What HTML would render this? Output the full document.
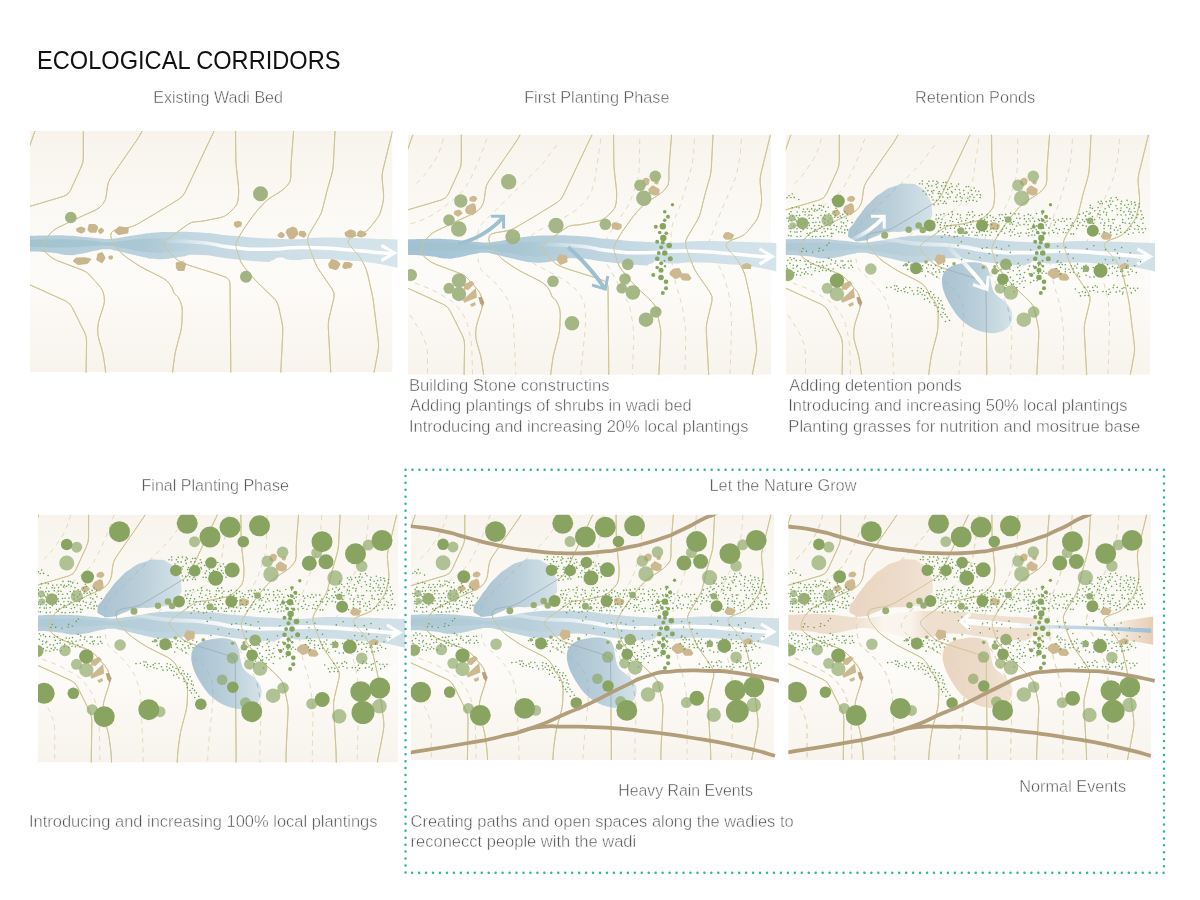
<!DOCTYPE html><html><head><meta charset="utf-8"><title>Ecological Corridors</title>
<style>html,body{margin:0;padding:0;background:#fff}svg{display:block}text{font-family:"Liberation Sans",sans-serif}</style></head><body>
<svg style="will-change:transform" width="1200" height="900" viewBox="0 0 1200 900">
<defs>
<linearGradient id="bg" x1="0" y1="0" x2="0" y2="1"><stop offset="0" stop-color="#f8f4ed"/><stop offset="0.4" stop-color="#fcfaf6"/><stop offset="0.62" stop-color="#fdfbf8"/><stop offset="1" stop-color="#f8f4ed"/></linearGradient>
<linearGradient id="rv" gradientUnits="userSpaceOnUse" x1="30" y1="0" x2="398" y2="0"><stop offset="0" stop-color="#b1ccd9"/><stop offset="0.35" stop-color="#bcd3de"/><stop offset="0.6" stop-color="#cadce5"/><stop offset="1" stop-color="#d6e5ec"/></linearGradient>
<linearGradient id="rvi" gradientUnits="userSpaceOnUse" x1="30" y1="0" x2="205" y2="0"><stop offset="0" stop-color="#a0c1cf" stop-opacity="0.85"/><stop offset="0.65" stop-color="#a5c4d1" stop-opacity="0.75"/><stop offset="1" stop-color="#b5cfdc" stop-opacity="0"/></linearGradient>
<linearGradient id="wa" gradientUnits="userSpaceOnUse" x1="160" y1="0" x2="235" y2="0"><stop offset="0" stop-color="#fff" stop-opacity="0"/><stop offset="1" stop-color="#fff" stop-opacity="1"/></linearGradient>
<linearGradient id="pd" x1="0" y1="0" x2="1" y2="0"><stop offset="0" stop-color="#a3bfce"/><stop offset="0.5" stop-color="#b4cbd7"/><stop offset="1" stop-color="#d2e1e7"/></linearGradient>
<linearGradient id="pdt" x1="0" y1="0" x2="1" y2="0"><stop offset="0" stop-color="#e8d3be"/><stop offset="0.6" stop-color="#ecdac7"/><stop offset="1" stop-color="#f1e3d4"/></linearGradient>
<linearGradient id="rvt" gradientUnits="userSpaceOnUse" x1="30" y1="0" x2="300" y2="0"><stop offset="0" stop-color="#eedccb"/><stop offset="0.25" stop-color="#efdfcf"/><stop offset="0.31" stop-color="#f5ebe0"/><stop offset="0.36" stop-color="#faf5ef"/><stop offset="0.46" stop-color="#f9f3ec"/><stop offset="0.52" stop-color="#efdfcf"/><stop offset="0.9" stop-color="#efdfcf"/><stop offset="1" stop-color="#f3e7da" stop-opacity="0"/></linearGradient>
<linearGradient id="wedge" gradientUnits="userSpaceOnUse" x1="352" y1="0" x2="398" y2="0"><stop offset="0" stop-color="#ecd8c4" stop-opacity="0"/><stop offset="0.5" stop-color="#ecd8c4" stop-opacity="0.75"/><stop offset="1" stop-color="#e6ceb6"/></linearGradient>
<linearGradient id="bl" gradientUnits="userSpaceOnUse" x1="200" y1="0" x2="396" y2="0"><stop offset="0" stop-color="#fff"/><stop offset="0.3" stop-color="#fff"/><stop offset="0.52" stop-color="#c8dbe6"/><stop offset="1" stop-color="#9fc0d6"/></linearGradient>
<linearGradient id="ar1" gradientUnits="userSpaceOnUse" x1="96" y1="236" x2="128" y2="213"><stop offset="0" stop-color="#fff" stop-opacity="0.15"/><stop offset="0.55" stop-color="#fff" stop-opacity="1"/></linearGradient>
<linearGradient id="ar2" gradientUnits="userSpaceOnUse" x1="191" y1="242" x2="231" y2="286"><stop offset="0" stop-color="#cfe0e9" stop-opacity="0.55"/><stop offset="0.6" stop-color="#fff" stop-opacity="1"/></linearGradient>
<g id="ct" fill="none" stroke="#cdc494" stroke-width="0.9" stroke-linecap="round">
<path d="M37.0,126.0 L35.9,128.7 Q35.0,131.0 33.3,135.7 L29.0,148.0"/>
<path d="M83.3,126.0 L83.3,157.5 Q83.3,162.5 81.2,167.0 L70.4,190.5 Q68.3,195.0 63.5,196.4 L26.0,207.5"/>
<path d="M26.0,283.0 L65.4,300.9 Q70.0,303.0 72.2,307.5 L84.5,332.2 Q86.7,336.7 86.6,341.7 L85.8,388.0"/>
<path d="M144.5,126.0 L142.2,130.9 Q140.3,135.0 137.5,139.1 L110.8,177.6 Q108.0,181.7 107.4,186.7 L106.4,195.0 Q105.8,200.0 103.2,203.6 L102.6,204.4 Q100.0,208.0 95.4,210.1 L82.6,215.9 Q78.0,218.0 73.5,220.2 L57.5,227.8 Q53.0,230.0 49.9,233.9 L48.1,236.1 Q45.0,240.0 43.9,244.5 L43.6,245.5 Q42.5,250.0 46.3,253.3 L49.2,255.7 Q53.0,259.0 57.7,260.8 L82.0,269.9 Q86.7,271.7 90.0,275.4 L99.7,286.3 Q103.0,290.0 103.8,294.9 L104.2,296.8 Q105.0,301.7 103.4,306.5 L99.6,318.2 Q98.0,323.0 97.8,328.0 L97.7,330.0 Q97.5,335.0 99.0,339.8 L101.5,348.2 Q103.0,353.0 103.7,357.9 L105.1,367.6 Q105.8,372.5 106.0,377.5 L106.5,388.0"/>
<path d="M216.5,126.0 L213.9,131.5 Q211.7,136.0 209.6,140.5 L185.1,192.2 Q183.0,196.7 178.7,199.3 L157.3,212.4 Q153.0,215.0 148.7,217.5 L137.3,224.2 Q133.0,226.7 128.1,227.5 L117.9,229.2 Q113.0,230.0 111.6,232.3 L111.4,232.7 Q110.0,235.0 111.4,238.6 L111.6,239.4 Q113.0,243.0 116.2,246.8 L119.8,251.2 Q123.0,255.0 127.1,257.8 L135.9,263.7 Q140.0,266.5 144.5,268.8 L162.2,277.7 Q166.7,280.0 169.3,283.6 L169.9,284.4 Q172.5,288.0 173.2,290.7 L173.3,291.3 Q174.0,294.0 175.8,294.9 L176.2,295.1 Q178.0,296.0 179.9,300.6 L180.6,302.1 Q182.5,306.7 182.3,311.7 L181.9,323.0 Q181.7,328.0 180.4,332.8 L176.3,348.2 Q175.0,353.0 174.4,358.0 L173.1,367.5 Q172.5,372.5 172.2,377.5 L171.5,388.0"/>
<path d="M235.5,126.0 L235.8,156.7 Q235.8,161.7 236.3,166.7 L238.5,186.7 Q239.0,191.7 238.4,196.7 L238.1,200.0 Q237.5,205.0 233.8,208.4 L228.7,213.3 Q225.0,216.7 220.1,217.7 L204.9,220.7 Q200.0,221.7 196.2,221.7 L195.5,221.7 Q191.7,221.7 187.6,224.6 L169.1,237.9 Q165.0,240.8 164.3,242.3 L164.2,242.5 Q163.5,244.0 164.2,245.6 L164.3,245.9 Q165.0,247.5 168.5,251.1 L174.5,257.4 Q178.0,261.0 182.5,262.8 L183.5,263.2 Q188.0,265.0 192.8,266.5 L215.2,273.5 Q220.0,275.0 224.5,276.8 L225.5,277.2 Q230.0,279.0 230.0,284.0 L230.8,367.5 Q230.8,372.5 230.8,377.5 L230.8,388.0"/>
<path d="M294.0,126.0 L291.2,161.7 Q290.8,166.7 290.9,171.7 L290.9,176.7 Q291.0,181.7 287.5,185.3 L286.5,186.4 Q283.0,190.0 278.7,192.6 L271.0,197.4 Q266.7,200.0 263.4,203.7 L258.3,209.3 Q255.0,213.0 252.1,217.1 L245.9,225.9 Q243.0,230.0 240.5,234.3 L237.5,239.7 Q235.0,244.0 236.1,247.5 L236.4,248.2 Q237.5,251.7 238.9,256.5 L239.4,258.2 Q240.8,263.0 244.0,266.8 L251.8,276.2 Q255.0,280.0 258.6,283.5 L273.9,298.2 Q277.5,301.7 278.6,306.6 L281.9,321.8 Q283.0,326.7 282.8,331.7 L281.0,367.5 Q280.8,372.5 280.7,377.5 L280.5,388.0"/>
<path d="M335.3,126.0 L333.3,165.0 Q333.0,170.0 331.6,174.8 L328.1,186.9 Q326.7,191.7 325.6,196.6 L322.8,208.1 Q321.7,213.0 319.1,217.3 L309.3,233.7 Q306.7,238.0 307.7,242.0 L308.0,242.7 Q309.0,246.7 310.8,251.4 L314.9,262.0 Q316.7,266.7 319.6,270.8 L332.1,288.9 Q335.0,293.0 333.9,297.9 L329.1,318.1 Q328.0,323.0 328.3,328.0 L330.5,367.5 Q330.8,372.5 330.9,377.5 L331.0,388.0"/>
<path d="M394.0,126.0 L393.2,128.7 Q392.5,131.0 391.3,135.9 L382.9,170.1 Q381.7,175.0 382.2,180.0 L383.5,193.0 Q384.0,198.0 382.9,202.9 L381.1,210.1 Q380.0,215.0 376.9,218.9 L369.8,227.8 Q366.7,231.7 362.0,233.5 L354.7,236.2 Q350.0,238.0 348.9,239.7 L348.6,240.0 Q347.5,241.7 349.0,244.0 L349.3,244.4 Q350.8,246.7 354.2,250.4 L356.6,253.0 Q360.0,256.7 362.2,261.2 L364.5,265.5 Q366.7,270.0 367.8,274.9 L371.9,293.1 Q373.0,298.0 373.6,303.0 L378.4,341.7 Q379.0,346.7 378.0,351.6 L375.0,367.6 Q374.0,372.5 373.0,377.4 L371.0,388.0"/>
</g>
<g id="ds" fill="none" stroke="#e1dabd" stroke-width="1" stroke-dasharray="5 4.6">
<path d="M68.5,126.0 L62.7,143.9 Q60.3,151.5 55.9,158.2 L51.4,164.8 Q47.0,171.5 42.5,176.0 L37.0,181.5"/>
<path d="M112.0,126.0 L104.6,147.0 Q102.0,154.5 98.7,161.8 L95.3,169.2 Q92.0,176.5 88.8,181.7 L88.2,182.8 Q85.0,188.0 78.8,193.1 L74.9,196.4 Q68.7,201.5 62.5,206.0 L61.2,207.0 Q55.0,211.5 47.7,214.8 L46.0,215.7 Q38.7,219.0 33.8,219.9 L28.0,221.0"/>
<path d="M178.7,141.5 L168.5,155.1 Q163.7,161.5 158.0,167.1 L152.7,172.4 Q147.0,178.0 141.3,183.6 L135.7,188.9 Q130.0,194.5 124.3,200.2 L120.7,203.8 Q115.0,209.5 109.1,214.9 L107.9,216.1 Q102.0,221.5 100.5,227.4 L100.2,228.6 Q98.7,234.5 99.0,242.5 L99.2,245.0 Q99.5,253.0 100.6,259.1 L100.9,260.4 Q102.0,266.5 107.9,271.0 L109.1,272.0 Q115.0,276.5 120.1,282.7 L123.6,286.8 Q128.7,293.0 131.3,300.6 L132.4,303.9 Q135.0,311.5 135.4,319.5 L137.4,361.5 Q137.8,369.5 137.8,377.5 L137.8,388.0"/>
<path d="M223.5,126.0 L223.1,131.7 Q222.8,136.5 221.6,144.4 L219.9,155.1 Q218.7,163.0 217.9,169.1 L217.8,170.4 Q217.0,176.5 214.7,184.0 L214.3,185.5 Q212.0,193.0 206.3,198.7 L202.7,202.3 Q197.0,208.0 190.0,211.8 L179.0,217.7 Q172.0,221.5 164.8,224.9 L162.2,226.1 Q155.0,229.5 150.2,235.9 L146.8,240.6 Q142.0,247.0 146.5,252.2 L147.5,253.3 Q152.0,258.5 159.2,262.1 L164.8,264.9 Q172.0,268.5 179.0,272.5 L181.7,274.0 Q188.7,278.0 193.2,281.9 L194.2,282.6 Q198.7,286.5 202.5,292.4 L203.2,293.6 Q207.0,299.5 207.3,307.5 L207.5,311.5 Q207.8,319.5 207.0,327.5 L203.6,361.5 Q202.8,369.5 202.5,377.5 L202.0,388.0"/>
<path d="M262.0,126.0 L261.2,163.5 Q261.0,171.5 258.6,179.1 L254.4,191.9 Q252.0,199.5 247.6,206.2 L246.4,207.8 Q242.0,214.5 237.5,221.1 L232.5,228.4 Q228.0,235.0 226.5,242.9 L226.0,245.1 Q224.5,253.0 228.5,259.9 L233.0,267.6 Q237.0,274.5 240.7,281.6 L248.3,295.9 Q252.0,303.0 253.3,310.9 L254.7,320.1 Q256.0,328.0 255.7,336.0 L254.8,361.5 Q254.5,369.5 254.5,377.5 L254.5,388.0"/>
<path d="M317.0,126.0 L315.5,150.0 Q315.0,158.0 312.9,165.7 L312.1,168.8 Q310.0,176.5 307.7,184.2 L304.3,195.3 Q302.0,203.0 298.7,210.3 L297.0,214.2 Q293.7,221.5 293.3,229.0 L293.2,230.5 Q292.8,238.0 293.2,246.0 L293.6,252.0 Q294.0,260.0 295.3,267.9 L295.7,270.1 Q297.0,278.0 299.3,285.7 L302.2,295.3 Q304.5,303.0 305.5,310.9 L306.8,320.1 Q307.8,328.0 307.6,336.0 L307.2,361.5 Q307.0,369.5 307.0,377.5 L307.0,388.0"/>
<path d="M364.0,126.0 L362.6,146.5 Q362.0,154.5 360.2,162.3 L358.8,168.7 Q357.0,176.5 353.7,183.8 L348.3,195.7 Q345.0,203.0 342.0,210.4 L338.0,220.6 Q335.0,228.0 332.5,234.1 L332.0,235.4 Q329.5,241.5 332.0,246.7 L332.5,247.8 Q335.0,253.0 339.1,259.8 L340.9,262.7 Q345.0,269.5 347.2,277.2 L349.8,286.8 Q352.0,294.5 352.5,302.5 L353.2,311.5 Q353.7,319.5 353.4,327.5 L352.3,361.5 Q352.0,369.5 352.0,377.5 L352.0,388.0"/>
<path d="M28.0,276.0 L47.5,283.6 Q55.0,286.5 61.9,290.6 L70.1,295.4 Q77.0,299.5 81.5,306.1 L84.2,309.9 Q88.7,316.5 90.4,324.3 L92.0,331.7 Q93.7,339.5 93.9,347.5 L94.3,361.5 Q94.5,369.5 94.5,377.5 L94.5,388.0"/>
<path d="M32.0,311.5 L39.3,322.8 Q43.7,329.5 46.3,336.3 L46.9,337.7 Q49.5,344.5 49.5,352.5 L49.5,388.0"/>
</g>
<linearGradient id="rv2" gradientUnits="userSpaceOnUse" x1="30" y1="0" x2="398" y2="0"><stop offset="0" stop-color="#b6cedb"/><stop offset="0.4" stop-color="#c2d6e0"/><stop offset="0.65" stop-color="#cbdce5"/><stop offset="1" stop-color="#d2e1e8"/></linearGradient>
<linearGradient id="wa2" gradientUnits="userSpaceOnUse" x1="96" y1="0" x2="235" y2="0"><stop offset="0" stop-color="#fff" stop-opacity="0.9"/><stop offset="0.25" stop-color="#fff" stop-opacity="0.25"/><stop offset="0.55" stop-color="#fff" stop-opacity="0.45"/><stop offset="1" stop-color="#fff" stop-opacity="1"/></linearGradient>
<linearGradient id="rvd" gradientUnits="userSpaceOnUse" x1="30" y1="0" x2="398" y2="0"><stop offset="0" stop-color="#a3c2d4"/><stop offset="0.4" stop-color="#b6cfdc"/><stop offset="0.7" stop-color="#cbdde6"/><stop offset="1" stop-color="#d4e4eb"/></linearGradient>
<g id="riverd"><path d="M26.0,236.0 C32.3,235.9 32.0,235.8 45.0,235.6 C58.0,235.4 51.7,234.9 65.0,235.4 C78.3,235.9 73.3,235.9 85.0,237.0 C96.7,238.1 92.3,237.9 100.0,238.6 C107.7,239.3 102.0,239.2 108.0,239.0 C114.0,238.8 109.0,239.2 118.0,238.0 C127.0,236.8 122.7,237.1 135.0,235.3 C147.3,233.5 143.3,233.7 155.0,232.6 C166.7,231.5 155.0,232.0 170.0,232.0 C185.0,232.0 179.0,231.2 200.0,232.5 C221.0,233.8 210.8,233.9 233.0,235.8 C255.2,237.7 244.4,237.2 266.7,238.3 C289.0,239.4 283.3,239.4 300.0,239.2 C316.7,239.0 300.0,238.2 316.7,237.8 C333.4,237.4 330.6,237.7 350.0,238.0 C369.4,238.3 357.7,238.2 375.0,238.7 C392.3,239.2 393.0,239.3 402.0,239.6 L402.0,268.8 C393.0,267.0 392.3,266.0 375.0,263.3 C357.7,260.6 369.4,262.2 350.0,260.8 C330.6,259.4 335.7,259.3 316.7,259.0 C297.7,258.7 305.2,260.5 293.0,260.0 C280.8,259.5 287.0,257.3 280.0,257.5 C273.0,257.7 277.7,259.1 272.0,260.5 C266.3,261.9 276.0,262.2 263.0,261.7 C250.0,261.2 254.0,261.2 233.0,259.0 C212.0,256.8 217.7,255.7 200.0,255.0 C182.3,254.3 191.7,255.7 180.0,257.0 C168.3,258.3 174.0,258.4 165.0,259.0 C156.0,259.6 159.7,259.3 153.0,258.8 C146.3,258.3 152.7,259.1 145.0,257.5 C137.3,255.9 140.0,256.4 130.0,254.0 C120.0,251.6 123.0,252.0 115.0,250.4 C107.0,248.8 112.7,249.2 106.0,249.3 C99.3,249.4 103.7,249.2 95.0,250.8 C86.3,252.4 89.3,252.6 80.0,254.0 C70.7,255.4 77.0,255.5 67.0,255.0 C57.0,254.5 63.7,253.7 50.0,252.5 C36.3,251.3 34.0,251.7 26.0,251.3Z" fill="url(#rvd)"/><path d="M26.0,240.0 C37.3,239.8 38.7,239.1 60.0,239.3 C81.3,239.5 74.3,239.5 90.0,240.5 C105.7,241.5 95.3,242.2 107.0,242.2 C118.7,242.2 110.7,241.7 125.0,240.5 C139.3,239.3 133.3,239.0 150.0,238.5 C166.7,238.0 158.3,238.2 175.0,239.0 C191.7,239.8 183.3,239.5 200.0,241.0 C216.7,242.5 216.7,242.7 225.0,243.5 L225.0,246.5 C216.7,247.3 218.3,247.2 200.0,249.0 C181.7,250.8 186.7,250.8 170.0,252.0 C153.3,253.2 165.0,253.7 150.0,252.5 C135.0,251.3 139.3,250.7 125.0,248.5 C110.7,246.3 118.7,246.5 107.0,245.8 C95.3,245.1 105.7,245.9 90.0,246.5 C74.3,247.1 81.3,247.4 60.0,247.6 C38.7,247.8 37.3,247.2 26.0,247.0Z" fill="url(#rvi)"/></g>
<g id="river2"><path d="M26.0,236.0 C32.3,235.9 32.0,235.8 45.0,235.6 C58.0,235.4 51.7,234.9 65.0,235.4 C78.3,235.9 73.3,235.9 85.0,237.0 C96.7,238.1 92.3,237.9 100.0,238.6 C107.7,239.3 102.0,239.2 108.0,239.0 C114.0,238.8 109.0,239.2 118.0,238.0 C127.0,236.8 122.7,237.1 135.0,235.3 C147.3,233.5 143.3,233.7 155.0,232.6 C166.7,231.5 155.0,232.0 170.0,232.0 C185.0,232.0 179.0,231.2 200.0,232.5 C221.0,233.8 210.8,233.9 233.0,235.8 C255.2,237.7 244.4,237.2 266.7,238.3 C289.0,239.4 283.3,239.4 300.0,239.2 C316.7,239.0 300.0,238.2 316.7,237.8 C333.4,237.4 330.6,237.7 350.0,238.0 C369.4,238.3 357.7,238.2 375.0,238.7 C392.3,239.2 393.0,239.3 402.0,239.6 L402.0,268.8 C393.0,267.0 392.3,266.0 375.0,263.3 C357.7,260.6 369.4,262.2 350.0,260.8 C330.6,259.4 335.7,259.3 316.7,259.0 C297.7,258.7 305.2,260.5 293.0,260.0 C280.8,259.5 287.0,257.3 280.0,257.5 C273.0,257.7 277.7,259.1 272.0,260.5 C266.3,261.9 276.0,262.2 263.0,261.7 C250.0,261.2 254.0,261.2 233.0,259.0 C212.0,256.8 217.7,255.7 200.0,255.0 C182.3,254.3 191.7,255.7 180.0,257.0 C168.3,258.3 174.0,258.4 165.0,259.0 C156.0,259.6 159.7,259.3 153.0,258.8 C146.3,258.3 152.7,259.1 145.0,257.5 C137.3,255.9 140.0,256.4 130.0,254.0 C120.0,251.6 123.0,252.0 115.0,250.4 C107.0,248.8 112.7,249.2 106.0,249.3 C99.3,249.4 103.7,249.2 95.0,250.8 C86.3,252.4 89.3,252.6 80.0,254.0 C70.7,255.4 77.0,255.5 67.0,255.0 C57.0,254.5 63.7,253.7 50.0,252.5 C36.3,251.3 34.0,251.7 26.0,251.3Z" fill="url(#rv2)"/><path d="M26.0,240.0 C37.3,239.8 38.7,239.1 60.0,239.3 C81.3,239.5 74.3,239.5 90.0,240.5 C105.7,241.5 95.3,242.2 107.0,242.2 C118.7,242.2 110.7,241.7 125.0,240.5 C139.3,239.3 133.3,239.0 150.0,238.5 C166.7,238.0 158.3,238.2 175.0,239.0 C191.7,239.8 183.3,239.5 200.0,241.0 C216.7,242.5 216.7,242.7 225.0,243.5 L225.0,246.5 C216.7,247.3 218.3,247.2 200.0,249.0 C181.7,250.8 186.7,250.8 170.0,252.0 C153.3,253.2 165.0,253.7 150.0,252.5 C135.0,251.3 139.3,250.7 125.0,248.5 C110.7,246.3 118.7,246.5 107.0,245.8 C95.3,245.1 105.7,245.9 90.0,246.5 C74.3,247.1 81.3,247.4 60.0,247.6 C38.7,247.8 37.3,247.2 26.0,247.0Z" fill="url(#rvi)" opacity="0.45"/></g>
<g id="river"><path d="M26.0,236.0 C32.3,235.9 32.0,235.8 45.0,235.6 C58.0,235.4 51.7,234.9 65.0,235.4 C78.3,235.9 73.3,235.9 85.0,237.0 C96.7,238.1 92.3,237.9 100.0,238.6 C107.7,239.3 102.0,239.2 108.0,239.0 C114.0,238.8 109.0,239.2 118.0,238.0 C127.0,236.8 122.7,237.1 135.0,235.3 C147.3,233.5 143.3,233.7 155.0,232.6 C166.7,231.5 155.0,232.0 170.0,232.0 C185.0,232.0 179.0,231.2 200.0,232.5 C221.0,233.8 210.8,233.9 233.0,235.8 C255.2,237.7 244.4,237.2 266.7,238.3 C289.0,239.4 283.3,239.4 300.0,239.2 C316.7,239.0 300.0,238.2 316.7,237.8 C333.4,237.4 330.6,237.7 350.0,238.0 C369.4,238.3 357.7,238.2 375.0,238.7 C392.3,239.2 393.0,239.3 402.0,239.6 L402.0,268.8 C393.0,267.0 392.3,266.0 375.0,263.3 C357.7,260.6 369.4,262.2 350.0,260.8 C330.6,259.4 335.7,259.3 316.7,259.0 C297.7,258.7 305.2,260.5 293.0,260.0 C280.8,259.5 287.0,257.3 280.0,257.5 C273.0,257.7 277.7,259.1 272.0,260.5 C266.3,261.9 276.0,262.2 263.0,261.7 C250.0,261.2 254.0,261.2 233.0,259.0 C212.0,256.8 217.7,255.7 200.0,255.0 C182.3,254.3 191.7,255.7 180.0,257.0 C168.3,258.3 174.0,258.4 165.0,259.0 C156.0,259.6 159.7,259.3 153.0,258.8 C146.3,258.3 152.7,259.1 145.0,257.5 C137.3,255.9 140.0,256.4 130.0,254.0 C120.0,251.6 123.0,252.0 115.0,250.4 C107.0,248.8 112.7,249.2 106.0,249.3 C99.3,249.4 103.7,249.2 95.0,250.8 C86.3,252.4 89.3,252.6 80.0,254.0 C70.7,255.4 77.0,255.5 67.0,255.0 C57.0,254.5 63.7,253.7 50.0,252.5 C36.3,251.3 34.0,251.7 26.0,251.3Z" fill="url(#rv)"/><path d="M26.0,240.0 C37.3,239.8 38.7,239.1 60.0,239.3 C81.3,239.5 74.3,239.5 90.0,240.5 C105.7,241.5 95.3,242.2 107.0,242.2 C118.7,242.2 110.7,241.7 125.0,240.5 C139.3,239.3 133.3,239.0 150.0,238.5 C166.7,238.0 158.3,238.2 175.0,239.0 C191.7,239.8 183.3,239.5 200.0,241.0 C216.7,242.5 216.7,242.7 225.0,243.5 L225.0,246.5 C216.7,247.3 218.3,247.2 200.0,249.0 C181.7,250.8 186.7,250.8 170.0,252.0 C153.3,253.2 165.0,253.7 150.0,252.5 C135.0,251.3 139.3,250.7 125.0,248.5 C110.7,246.3 118.7,246.5 107.0,245.8 C95.3,245.1 105.7,245.9 90.0,246.5 C74.3,247.1 81.3,247.4 60.0,247.6 C38.7,247.8 37.3,247.2 26.0,247.0Z" fill="url(#rvi)"/></g>
<g id="rivert"><path d="M26.0,236.0 C32.3,235.9 32.0,235.8 45.0,235.6 C58.0,235.4 51.7,234.9 65.0,235.4 C78.3,235.9 73.3,235.9 85.0,237.0 C96.7,238.1 92.3,237.9 100.0,238.6 C107.7,239.3 102.0,239.2 108.0,239.0 C114.0,238.8 109.0,239.2 118.0,238.0 C127.0,236.8 122.7,237.1 135.0,235.3 C147.3,233.5 143.3,233.7 155.0,232.6 C166.7,231.5 155.0,232.0 170.0,232.0 C185.0,232.0 179.0,231.2 200.0,232.5 C221.0,233.8 210.8,233.9 233.0,235.8 C255.2,237.7 244.4,237.2 266.7,238.3 C289.0,239.4 283.3,239.4 300.0,239.2 C316.7,239.0 300.0,238.2 316.7,237.8 C333.4,237.4 330.6,237.7 350.0,238.0 C369.4,238.3 357.7,238.2 375.0,238.7 C392.3,239.2 393.0,239.3 402.0,239.6 L402.0,268.8 C393.0,267.0 392.3,266.0 375.0,263.3 C357.7,260.6 369.4,262.2 350.0,260.8 C330.6,259.4 335.7,259.3 316.7,259.0 C297.7,258.7 305.2,260.5 293.0,260.0 C280.8,259.5 287.0,257.3 280.0,257.5 C273.0,257.7 277.7,259.1 272.0,260.5 C266.3,261.9 276.0,262.2 263.0,261.7 C250.0,261.2 254.0,261.2 233.0,259.0 C212.0,256.8 217.7,255.7 200.0,255.0 C182.3,254.3 191.7,255.7 180.0,257.0 C168.3,258.3 174.0,258.4 165.0,259.0 C156.0,259.6 159.7,259.3 153.0,258.8 C146.3,258.3 152.7,259.1 145.0,257.5 C137.3,255.9 140.0,256.4 130.0,254.0 C120.0,251.6 123.0,252.0 115.0,250.4 C107.0,248.8 112.7,249.2 106.0,249.3 C99.3,249.4 103.7,249.2 95.0,250.8 C86.3,252.4 89.3,252.6 80.0,254.0 C70.7,255.4 77.0,255.5 67.0,255.0 C57.0,254.5 63.7,253.7 50.0,252.5 C36.3,251.3 34.0,251.7 26.0,251.3Z" fill="url(#rvt)"/></g>
<g id="warrow" fill="none" stroke-linecap="butt"><path d="M160.0,241.0 C173.3,241.5 175.7,240.3 200.0,242.5 C224.3,244.7 210.7,245.3 233.0,247.5 C255.3,249.7 242.3,249.2 267.0,249.2 C291.7,249.2 279.3,247.2 307.0,247.5 C334.7,247.8 324.7,248.2 350.0,250.0 C375.3,251.8 368.5,252.0 383.0,253.0 C397.5,254.0 390.0,253.0 393.5,253.0" stroke="url(#wa)" stroke-width="3.6"/><path d="M381.5,245.3 L394.3,253 L381.5,260.6" stroke="#fff" stroke-width="3.2" stroke-linejoin="miter"/></g>
<g id="warrow2" fill="none" stroke-linecap="butt"><path d="M97.0,236.6 C106.7,236.2 105.0,234.4 126.0,235.5 C147.0,236.6 135.3,237.7 160.0,240.0 C184.7,242.3 175.7,240.0 200.0,242.5 C224.3,245.0 210.7,245.3 233.0,247.5 C255.3,249.7 242.3,249.2 267.0,249.2 C291.7,249.2 279.3,247.2 307.0,247.5 C334.7,247.8 324.7,248.2 350.0,250.0 C375.3,251.8 368.5,252.0 383.0,253.0 C397.5,254.0 390.0,253.0 393.5,253.0" stroke="url(#wa2)" stroke-width="3.8"/><path d="M381.5,245.3 L394.3,253 L381.5,260.6" stroke="#fff" stroke-width="3.2" stroke-linejoin="miter"/></g>
<g id="st1" fill="#c9b68c">
<path d="M75.9,228.5 L80.2,226.8 Q81.0,226.5 81.8,226.8 L84.8,228.1 Q85.6,228.5 85.4,229.3 L85.1,231.0 Q84.9,231.9 84.1,232.3 L82.1,233.2 Q81.3,233.6 80.5,233.3 L77.3,231.9 Q76.4,231.5 76.3,230.6 L76.1,229.4 Q75.9,228.5 76.7,228.2 L81.0,226.5Z"/>
<path d="M89.8,232.8 L87.9,230.5 Q87.4,229.8 87.6,228.9 L88.5,225.0 Q88.7,224.1 89.6,224.1 L94.7,224.1 Q95.6,224.1 96.2,224.7 L97.9,226.4 Q98.5,227.1 98.2,227.9 L96.6,232.0 Q96.2,232.8 95.3,232.8 L90.7,232.8 Q89.8,232.8 89.2,232.1 L87.4,229.8Z"/>
<path d="M101.1,227.5 L103.2,228.9 Q104.0,229.4 103.9,230.3 L103.9,230.8 Q103.9,231.7 103.1,232.2 L101.0,233.7 Q100.2,234.3 99.6,233.6 L98.8,232.7 Q98.1,232.1 98.1,231.2 L98.1,230.6 Q98.1,229.7 98.9,229.2 L100.4,228.0 Q101.1,227.5 101.9,228.0 L104.0,229.4Z"/>
<path d="M114.1,231.4 L118.2,226.7 Q118.8,226.0 119.7,226.2 L128.0,227.8 Q128.9,227.9 128.8,228.8 L128.4,232.4 Q128.3,233.3 127.5,233.4 L119.1,235.0 Q118.2,235.2 117.6,234.6 L114.7,232.0 Q114.1,231.4 114.7,230.7 L118.8,226.0Z"/>
<path d="M242.3,222.8 L241.3,225.7 Q241.0,226.5 240.2,226.8 L237.5,227.7 Q236.6,228.0 236.0,227.4 L234.5,226.1 Q233.8,225.5 233.9,224.6 L234.1,222.7 Q234.1,221.8 235.0,221.7 L238.1,221.0 Q239.0,220.8 239.8,221.3 L241.6,222.3 Q242.3,222.8 242.0,223.6 L241.0,226.5Z"/>
<path d="M278.5,237.2 L277.6,235.8 Q277.2,235.0 277.8,234.4 L279.8,232.5 Q280.4,231.8 281.3,232.1 L282.6,232.6 Q283.4,232.9 283.9,233.7 L284.6,234.9 Q285.0,235.7 284.4,236.3 L282.8,237.8 Q282.2,238.4 281.3,238.1 L279.4,237.5 Q278.5,237.2 278.1,236.5 L277.2,235.0Z"/>
<path d="M286.9,229.2 L291.7,226.9 Q292.5,226.5 293.3,226.8 L296.1,228.1 Q296.9,228.5 297.2,229.4 L298.4,232.9 Q298.7,233.8 298.1,234.4 L294.4,238.3 Q293.8,238.9 292.9,239.0 L290.4,239.2 Q289.5,239.2 289.0,238.5 L285.9,233.0 Q285.5,232.3 285.8,231.4 L286.5,230.1 Q286.9,229.2 287.7,228.8 L292.5,226.5Z"/>
<path d="M298.5,235.4 L299.3,231.6 Q299.6,230.7 300.4,230.8 L304.0,231.1 Q304.8,231.2 305.3,231.9 L306.5,233.9 Q307.0,234.7 306.4,235.3 L304.5,237.4 Q303.9,238.0 303.1,237.6 L299.3,235.8 Q298.5,235.4 298.7,234.5 L299.6,230.7Z"/>
<path d="M354.9,230.9 L356.0,233.0 Q356.4,233.8 355.9,234.6 L354.9,236.2 Q354.4,237.0 353.5,237.1 L349.3,237.8 Q348.4,237.9 347.7,237.4 L345.9,236.4 Q345.1,235.9 344.9,235.0 L344.6,233.2 Q344.4,232.3 345.2,231.9 L349.3,229.7 Q350.1,229.3 351.0,229.6 L354.1,230.6 Q354.9,230.9 355.3,231.7 L356.4,233.8Z"/>
<path d="M361.1,237.5 L358.2,236.7 Q357.3,236.4 357.2,235.5 L357.1,233.6 Q357.0,232.7 357.7,232.1 L359.2,230.8 Q359.9,230.2 360.8,230.4 L362.6,230.9 Q363.4,231.1 364.1,231.6 L366.3,233.3 Q367.1,233.8 366.5,234.5 L365.7,235.6 Q365.1,236.4 364.3,236.6 L362.0,237.3 Q361.1,237.5 360.2,237.3 L357.3,236.4Z"/>
<path d="M77.9,265.1 L73.3,261.8 Q72.6,261.3 73.2,260.6 L75.1,258.2 Q75.7,257.5 76.6,257.5 L84.4,257.3 Q85.3,257.3 86.2,257.5 L90.8,258.6 Q91.7,258.9 91.2,259.6 L88.2,263.2 Q87.7,263.9 86.8,264.0 L78.8,265.0 Q77.9,265.1 77.2,264.6 L72.6,261.3Z"/>
<path d="M97.5,253.6 L101.7,252.3 Q102.6,252.1 103.0,252.9 L105.3,257.2 Q105.7,258.0 105.2,258.7 L102.7,262.8 Q102.3,263.6 101.5,263.1 L96.9,260.4 Q96.2,259.9 96.3,259.0 L97.3,254.5 Q97.5,253.6 98.4,253.3 L102.6,252.1Z"/>
<path d="M113.4,258.0 L112.1,259.1 Q111.5,259.8 110.6,259.7 L109.9,259.6 Q109.0,259.5 108.7,258.6 L108.4,257.6 Q108.1,256.8 108.8,256.1 L108.9,256.0 Q109.6,255.4 110.5,255.4 L111.7,255.5 Q112.6,255.6 112.9,256.4 L113.1,257.1 Q113.4,258.0 112.7,258.6 L111.5,259.8Z"/>
<path d="M175.8,267.6 L175.8,263.3 Q175.8,262.4 176.6,262.2 L182.4,261.2 Q183.3,261.1 183.9,261.7 L185.6,263.5 Q186.2,264.2 186.0,265.1 L184.5,270.3 Q184.2,271.2 183.3,271.1 L178.7,271.1 Q177.8,271.1 177.4,270.3 L176.3,268.4 Q175.8,267.6 175.8,266.7 L175.8,262.4Z"/>
<path d="M337.3,260.4 L340.0,263.2 Q340.6,263.9 340.2,264.7 L338.9,267.4 Q338.5,268.2 337.8,268.8 L336.7,269.8 Q336.0,270.3 335.1,270.1 L330.1,268.5 Q329.3,268.3 329.0,267.4 L328.3,265.1 Q328.0,264.3 328.5,263.5 L330.9,259.7 Q331.4,258.9 332.3,259.1 L336.4,260.2 Q337.3,260.4 337.9,261.1 L340.6,263.9Z"/>
<path d="M351.0,268.0 L345.1,269.0 Q344.3,269.2 343.6,268.6 L342.6,267.6 Q342.0,267.0 342.3,266.2 L343.6,262.9 Q343.9,262.1 344.8,262.1 L348.4,261.9 Q349.3,261.9 350.0,262.3 L352.2,263.6 Q353.0,264.1 352.6,264.9 L351.4,267.2 Q351.0,268.0 350.1,268.1 L344.3,269.2Z"/>
</g>
<g id="st2" fill="#cdb88f">
<path d="M91.5,194.1 L93.8,192.7 Q94.6,192.2 95.5,192.4 L96.6,192.5 Q97.5,192.6 98.0,193.4 L99.0,194.6 Q99.5,195.3 98.9,196.0 L97.5,197.7 Q96.9,198.4 96.0,198.3 L94.5,198.2 Q93.6,198.1 92.7,197.8 L92.0,197.6 Q91.2,197.3 91.3,196.4 L91.4,194.9 Q91.5,194.1 92.3,193.6 L94.6,192.2Z"/>
<path d="M88.8,210.2 L87.3,207.6 Q86.8,206.9 87.2,206.0 L88.5,203.1 Q88.9,202.3 89.7,201.9 L94.5,199.8 Q95.3,199.4 96.0,200.0 L96.9,200.8 Q97.6,201.4 97.7,202.3 L98.3,207.2 Q98.5,208.1 97.8,208.8 L95.4,211.3 Q94.8,212.0 94.0,211.7 L89.7,210.4 Q88.8,210.2 88.4,209.4 L86.8,206.9Z"/>
<path d="M84.9,209.7 L80.9,212.8 Q80.2,213.4 79.5,212.9 L76.2,210.9 Q75.5,210.4 75.8,209.6 L76.3,208.1 Q76.6,207.3 77.5,207.1 L80.9,206.2 Q81.7,206.0 82.3,206.7 L84.3,209.0 Q84.9,209.7 84.2,210.2 L80.2,213.4Z"/>
<path d="M182.2,261.6 L179.0,257.2 Q178.4,256.4 178.8,255.6 L180.7,251.4 Q181.1,250.6 182.0,250.7 L188.2,251.8 Q189.1,251.9 189.2,252.8 L189.5,257.9 Q189.5,258.8 188.7,259.1 L183.1,261.3 Q182.2,261.6 181.7,260.9 L178.4,256.4Z"/>
<path d="M264.1,177.4 L265.1,175.7 Q265.5,174.9 266.4,174.7 L267.8,174.2 Q268.7,174.0 269.5,174.5 L271.0,175.4 Q271.7,175.9 271.6,176.8 L271.1,179.8 Q271.0,180.7 270.2,181.2 L268.7,182.1 Q267.9,182.5 267.1,182.2 L265.1,181.2 Q264.2,180.8 264.2,179.9 L264.1,178.2 Q264.1,177.4 264.5,176.6 L265.5,174.9Z"/>
<path d="M271.3,190.3 L270.4,186.7 Q270.1,185.8 270.8,185.2 L273.9,182.3 Q274.5,181.7 275.3,182.1 L281.0,185.2 Q281.8,185.6 281.7,186.5 L281.2,189.7 Q281.0,190.6 280.2,190.9 L277.7,191.9 Q276.9,192.2 276.0,191.9 L272.1,190.6 Q271.3,190.3 271.0,189.4 L270.1,185.8Z"/>
<path d="M276.3,180.3 L276.3,178.9 Q276.4,178.0 277.2,177.7 L278.9,177.1 Q279.7,176.8 280.2,177.5 L280.5,177.8 Q281.0,178.6 280.6,179.4 L280.2,180.3 Q279.8,181.1 279.0,180.9 L277.2,180.5 Q276.3,180.3 276.3,179.4 L276.4,178.0Z"/>
<path d="M243.6,224.6 L240.8,226.3 Q240.0,226.8 239.1,226.6 L234.9,225.6 Q234.0,225.4 233.9,224.5 L233.5,221.5 Q233.4,220.6 234.1,220.1 L235.8,218.9 Q236.5,218.4 237.4,218.7 L242.7,220.3 Q243.6,220.6 243.6,221.5 L243.6,223.7 Q243.6,224.6 242.9,225.0 L240.0,226.8Z"/>
<path d="M353.9,236.0 L348.3,236.2 Q347.4,236.2 346.8,235.5 L345.1,233.8 Q344.5,233.1 345.0,232.3 L346.5,229.5 Q346.9,228.7 347.8,228.7 L350.1,228.5 Q351.0,228.4 351.8,228.9 L355.5,230.9 Q356.3,231.3 355.9,232.1 L354.3,235.2 Q353.9,236.0 353.0,236.1 L347.4,236.2Z"/>
<path d="M365.0,265.6 L363.6,262.8 Q363.2,262.0 364.0,261.6 L368.2,259.6 Q369.0,259.2 369.8,259.7 L372.6,261.1 Q373.4,261.6 373.3,262.5 L373.0,264.7 Q372.9,265.6 372.0,265.6 L365.9,265.6 Q365.0,265.6 364.6,264.8 L363.2,262.0Z"/>
<path d="M301.4,264.5 L303.9,269.5 Q304.3,270.3 303.8,271.1 L302.4,273.3 Q302.0,274.0 301.1,274.3 L297.9,275.4 Q297.0,275.7 296.3,275.1 L292.3,271.7 Q291.6,271.2 291.6,270.3 L291.6,269.4 Q291.6,268.5 292.2,267.9 L294.8,265.6 Q295.4,265.0 296.3,264.9 L300.5,264.5 Q301.4,264.5 301.8,265.3 L304.3,270.3Z"/>
<path d="M310.5,270.2 L313.1,274.0 Q313.6,274.8 313.0,275.4 L311.8,276.6 Q311.2,277.3 310.3,277.3 L305.2,277.1 Q304.3,277.0 303.9,276.3 L302.2,273.7 Q301.7,273.0 302.2,272.3 L303.6,270.5 Q304.2,269.8 305.1,269.8 L309.6,270.1 Q310.5,270.2 311.0,270.9 L313.6,274.8Z"/>
<path d="M85.3,281.2 L93.7,277.3 L96.6,280.2 L90.3,286.5 L86.2,285.9Z"/><path d="M97.8,284.6 L98.9,294 L86.4,299.2 L84.8,296.6Z"/><path d="M100.3,294 L103.7,293.2 L106.3,299 L104.7,303.4 L102,299.8Z" fill="#b9a27c"/><path d="M92,300.7 L97,298.5 L97.8,301.5 L93.7,303.6Z"/>
</g>
<g id="tr1" fill="#a2b382">
<circle cx="70.8" cy="217.5" r="5.8"/>
<circle cx="260.5" cy="193.8" r="7.5"/>
<circle cx="246" cy="276.7" r="6"/>
</g>
<g id="tr2" fill="#9fb27d" opacity="0.93">
<circle cx="82.8" cy="197.5" r="6.7"/>
<circle cx="71" cy="216.5" r="5.8"/>
<circle cx="80.8" cy="225.5" r="7.8"/>
<circle cx="130.7" cy="178.2" r="7.7"/>
<circle cx="134.8" cy="233.2" r="7.5"/>
<circle cx="178" cy="222" r="7.7"/>
<circle cx="33" cy="271.5" r="6"/>
<circle cx="277.3" cy="172.8" r="5.8"/>
<circle cx="262" cy="181.8" r="5.8"/>
<circle cx="265.8" cy="194.8" r="7.7"/>
<circle cx="227.3" cy="220.8" r="5.8"/>
<circle cx="249.8" cy="260.9" r="5.8"/>
<circle cx="81" cy="277" r="7.2"/>
<circle cx="71" cy="284.8" r="5.5"/>
<circle cx="81" cy="290.5" r="7.2"/>
<circle cx="175" cy="277.8" r="5.8"/>
<circle cx="194" cy="319.8" r="7.3"/>
<circle cx="247" cy="275.5" r="5.8"/>
<circle cx="243.7" cy="284.8" r="5.3"/>
<circle cx="254.8" cy="289" r="7.3"/>
<circle cx="277.8" cy="308.5" r="5.8"/>
<circle cx="268" cy="316.2" r="7.3"/>
</g>
<g id="tr3">
<circle cx="82.3" cy="197.5" r="6.5" fill="#89a461"/>
<circle cx="36" cy="214.5" r="3.5" fill="#8ca766" opacity="0.68"/>
<circle cx="36.8" cy="222.3" r="3.3" fill="#8ca766" opacity="0.68"/>
<circle cx="46.5" cy="219.8" r="6" fill="#93ab6e" opacity="0.95"/>
<circle cx="71.5" cy="216.8" r="6" fill="#8ca766" opacity="0.68"/>
<circle cx="173.7" cy="222" r="6" fill="#89a461"/>
<circle cx="162.7" cy="222" r="3.3" fill="#93ab6e" opacity="0.95"/>
<circle cx="166.8" cy="226.5" r="3.3" fill="#93ab6e" opacity="0.95"/>
<circle cx="152.7" cy="226.2" r="3.2" fill="#93ab6e" opacity="0.95"/>
<circle cx="128.7" cy="231.8" r="3.5" fill="#93ab6e" opacity="0.95"/>
<circle cx="204.8" cy="227.3" r="3.5" fill="#93ab6e" opacity="0.95"/>
<circle cx="210" cy="229" r="1.8" fill="#93ab6e" opacity="0.95"/>
<circle cx="226" cy="222" r="6" fill="#89a461"/>
<circle cx="114.8" cy="265.5" r="5.8" fill="#8ca766" opacity="0.68"/>
<circle cx="160" cy="264.8" r="6" fill="#89a461"/>
<circle cx="32.3" cy="271.5" r="6" fill="#93ab6e" opacity="0.95"/>
<circle cx="150" cy="261.2" r="1.8" fill="#93ab6e" opacity="0.95"/>
<circle cx="170" cy="258.5" r="1.8" fill="#93ab6e" opacity="0.95"/>
<circle cx="198" cy="260.2" r="1.8" fill="#93ab6e" opacity="0.95"/>
<circle cx="277.3" cy="172.8" r="5.8" fill="#8ca766" opacity="0.68"/>
<circle cx="262" cy="181.8" r="5.8" fill="#8ca766" opacity="0.68"/>
<circle cx="265.7" cy="194.8" r="7.7" fill="#8ca766" opacity="0.68"/>
<circle cx="252.3" cy="216" r="3.3" fill="#93ab6e" opacity="0.95"/>
<circle cx="334" cy="217.3" r="3.3" fill="#93ab6e" opacity="0.95"/>
<circle cx="336.8" cy="227.3" r="6" fill="#89a461"/>
<circle cx="249.8" cy="260.8" r="5.8" fill="#93ab6e" opacity="0.95"/>
<circle cx="238.7" cy="267.8" r="3.3" fill="#93ab6e" opacity="0.95"/>
<circle cx="227.3" cy="263.7" r="1.8" fill="#93ab6e" opacity="0.95"/>
<circle cx="238.7" cy="263.2" r="1.6" fill="#93ab6e" opacity="0.95"/>
<circle cx="330" cy="265.2" r="3.3" fill="#93ab6e" opacity="0.95"/>
<circle cx="344.5" cy="267.3" r="7" fill="#89a461"/>
<circle cx="81" cy="277" r="7.2" fill="#89a461"/>
<circle cx="71.2" cy="284.8" r="5.5" fill="#8ca766" opacity="0.68"/>
<circle cx="81" cy="290.5" r="7.2" fill="#8ca766" opacity="0.68"/>
<circle cx="246.8" cy="275.7" r="5.8" fill="#89a461"/>
<circle cx="244" cy="284.8" r="5.3" fill="#8ca766" opacity="0.68"/>
<circle cx="254.8" cy="289" r="7.3" fill="#8ca766" opacity="0.68"/>
<circle cx="277.7" cy="308.5" r="5.8" fill="#8ca766" opacity="0.68"/>
<circle cx="267.8" cy="316.2" r="7.3" fill="#8ca766" opacity="0.68"/>
</g>
<g id="tr4">
<circle cx="189.2" cy="162.2" r="5.5" fill="#8ca766" opacity="0.68"/>
<circle cx="114.2" cy="152.2" r="10.5" fill="#89a461"/>
<circle cx="181.9" cy="143.8" r="10.5" fill="#89a461"/>
<circle cx="204.7" cy="157.5" r="10.5" fill="#89a461"/>
<circle cx="71.4" cy="167.7" r="5.5" fill="#8ca766" opacity="0.68"/>
<circle cx="61.4" cy="165" r="5.8" fill="#89a461"/>
<circle cx="61.4" cy="183.5" r="7.5" fill="#8ca766" opacity="0.68"/>
<circle cx="170.5" cy="191" r="5.8" fill="#89a461"/>
<circle cx="189.4" cy="191.3" r="5.8" fill="#89a461"/>
<circle cx="205.7" cy="183.3" r="5.8" fill="#89a461"/>
<circle cx="210.3" cy="198.8" r="7.5" fill="#89a461"/>
<circle cx="224.7" cy="147.7" r="10.5" fill="#89a461"/>
<circle cx="254.2" cy="146.3" r="10.5" fill="#89a461"/>
<circle cx="238" cy="162.2" r="5.8" fill="#89a461"/>
<circle cx="226.9" cy="190.5" r="7.5" fill="#89a461"/>
<circle cx="311.4" cy="173.3" r="5.5" fill="#8ca766" opacity="0.68"/>
<circle cx="316.7" cy="162.2" r="10.5" fill="#89a461"/>
<circle cx="304" cy="183.8" r="7.5" fill="#89a461"/>
<circle cx="320.7" cy="182.2" r="7.5" fill="#89a461"/>
<circle cx="363" cy="165.5" r="5.5" fill="#8ca766" opacity="0.68"/>
<circle cx="350.2" cy="174.3" r="10.5" fill="#89a461"/>
<circle cx="376.7" cy="161" r="10.5" fill="#89a461"/>
<circle cx="356.4" cy="186.7" r="5.8" fill="#8ca766" opacity="0.68"/>
<circle cx="329.7" cy="198.5" r="7.7" fill="#8ca766" opacity="0.68"/>
<circle cx="59.7" cy="271" r="5.8" fill="#8ca766" opacity="0.68"/>
<circle cx="38.9" cy="313.8" r="10.5" fill="#89a461"/>
<circle cx="68" cy="313.8" r="5.8" fill="#89a461"/>
<circle cx="86.9" cy="330.2" r="5.5" fill="#8ca766" opacity="0.68"/>
<circle cx="98.9" cy="337.2" r="10.5" fill="#89a461"/>
<circle cx="154.7" cy="332.2" r="5.5" fill="#8ca766" opacity="0.68"/>
<circle cx="143.5" cy="330.2" r="10.5" fill="#89a461"/>
<circle cx="195.5" cy="324.7" r="5.8" fill="#89a461"/>
<circle cx="216.8" cy="300.3" r="5.3" fill="#8ca766" opacity="0.68"/>
<circle cx="227.2" cy="278.5" r="5.8" fill="#8ca766" opacity="0.68"/>
<circle cx="227.5" cy="307.7" r="5.8" fill="#89a461"/>
<circle cx="240.2" cy="323.3" r="5.5" fill="#8ca766" opacity="0.68"/>
<circle cx="246.4" cy="332.2" r="10.5" fill="#89a461"/>
<circle cx="306.4" cy="324.3" r="5.5" fill="#8ca766" opacity="0.68"/>
<circle cx="316.9" cy="320" r="7.5" fill="#89a461"/>
<circle cx="333.9" cy="336.8" r="7.2" fill="#8ca766" opacity="0.68"/>
<circle cx="374.2" cy="326.8" r="7.3" fill="#8ca766" opacity="0.68"/>
<circle cx="355.5" cy="312.2" r="10.5" fill="#89a461"/>
<circle cx="374.4" cy="308.5" r="10.5" fill="#89a461"/>
<circle cx="357.7" cy="333" r="11.5" fill="#89a461"/>
<circle cx="356.4" cy="278.8" r="5.8" fill="#8ca766" opacity="0.68"/>
</g>
<g id="col" fill="#86a55f">
<circle cx="294.5" cy="201.2" r="1.7"/>
<circle cx="286.7" cy="208.2" r="1.8"/>
<circle cx="290.0" cy="213.2" r="2"/>
<circle cx="286.7" cy="216.8" r="1.8"/>
<circle cx="277.8" cy="223.2" r="2"/>
<circle cx="284.8" cy="222.7" r="3.2"/>
<circle cx="281.7" cy="229.0" r="1.8"/>
<circle cx="288.2" cy="229.8" r="1.8"/>
<circle cx="285.3" cy="234.5" r="3.2"/>
<circle cx="279.2" cy="238.2" r="2"/>
<circle cx="284.8" cy="239.0" r="2"/>
<circle cx="291.2" cy="242.0" r="2.8"/>
<circle cx="283.2" cy="243.7" r="2"/>
<circle cx="280.8" cy="249.5" r="2"/>
<circle cx="286.7" cy="249.5" r="2.8"/>
<circle cx="279.2" cy="255.3" r="2.3"/>
<circle cx="292.3" cy="255.3" r="2.5"/>
<circle cx="286.5" cy="257.3" r="1"/>
<circle cx="283.2" cy="259.8" r="2"/>
<circle cx="287.0" cy="262.8" r="1.2"/>
<circle cx="279.2" cy="264.0" r="1.8"/>
<circle cx="283.0" cy="266.8" r="2.5"/>
<circle cx="275.3" cy="271.5" r="2"/>
<circle cx="283.0" cy="274.0" r="2.8"/>
<circle cx="288.0" cy="278.2" r="2.3"/>
<circle cx="288.0" cy="284.8" r="2"/>
<circle cx="284.8" cy="289.5" r="2"/>
</g>
<g id="gr" fill="#69a054">
<circle cx="33.1" cy="192.3" r=".8"/><circle cx="36.3" cy="190.5" r=".8"/><circle cx="31.0" cy="194.2" r=".8"/><circle cx="34.9" cy="194.0" r=".8"/><circle cx="38.2" cy="193.9" r=".8"/><circle cx="42.8" cy="196.0" r=".8"/><circle cx="57.7" cy="201.9" r=".8"/><circle cx="63.2" cy="201.9" r=".8"/><circle cx="65.3" cy="202.1" r=".8"/><circle cx="36.2" cy="204.3" r=".8"/><circle cx="40.6" cy="203.5" r=".8"/><circle cx="43.0" cy="204.3" r=".8"/><circle cx="47.4" cy="205.7" r=".8"/><circle cx="51.5" cy="205.5" r=".8"/><circle cx="55.7" cy="205.4" r=".8"/><circle cx="59.0" cy="205.7" r=".8"/><circle cx="63.4" cy="205.2" r=".8"/><circle cx="67.5" cy="203.4" r=".8"/><circle cx="72.2" cy="203.8" r=".8"/><circle cx="80.0" cy="204.7" r=".8"/><circle cx="35.0" cy="208.2" r=".8"/><circle cx="41.3" cy="208.5" r=".8"/><circle cx="46.8" cy="208.2" r=".8"/><circle cx="49.2" cy="208.5" r=".8"/><circle cx="53.3" cy="208.1" r=".8"/><circle cx="58.3" cy="207.4" r=".8"/><circle cx="61.2" cy="206.7" r=".8"/><circle cx="65.9" cy="206.8" r=".8"/><circle cx="69.7" cy="208.1" r=".8"/><circle cx="78.4" cy="208.4" r=".8"/><circle cx="81.1" cy="206.8" r=".8"/><circle cx="88.8" cy="208.3" r=".8"/><circle cx="33.3" cy="210.4" r=".8"/><circle cx="36.6" cy="212.5" r=".8"/><circle cx="40.5" cy="212.2" r=".8"/><circle cx="43.6" cy="211.9" r=".8"/><circle cx="49.0" cy="211.2" r=".8"/><circle cx="52.9" cy="211.6" r=".8"/><circle cx="55.7" cy="211.7" r=".8"/><circle cx="65.0" cy="212.0" r=".8"/><circle cx="68.6" cy="211.6" r=".8"/><circle cx="72.9" cy="210.4" r=".8"/><circle cx="74.8" cy="211.7" r=".8"/><circle cx="79.3" cy="211.9" r=".8"/><circle cx="84.3" cy="212.5" r=".8"/><circle cx="86.7" cy="210.9" r=".8"/><circle cx="91.2" cy="210.6" r=".8"/><circle cx="31.0" cy="214.5" r=".8"/><circle cx="33.2" cy="214.7" r=".8"/><circle cx="39.1" cy="215.9" r=".8"/><circle cx="42.2" cy="214.5" r=".8"/><circle cx="46.0" cy="215.8" r=".8"/><circle cx="50.5" cy="216.1" r=".8"/><circle cx="53.2" cy="214.8" r=".8"/><circle cx="57.3" cy="214.7" r=".8"/><circle cx="62.0" cy="214.4" r=".8"/><circle cx="67.2" cy="214.8" r=".8"/><circle cx="68.8" cy="215.9" r=".8"/><circle cx="74.5" cy="215.1" r=".8"/><circle cx="78.7" cy="213.7" r=".8"/><circle cx="81.9" cy="213.7" r=".8"/><circle cx="85.3" cy="214.0" r=".8"/><circle cx="90.3" cy="214.8" r=".8"/><circle cx="32.5" cy="217.6" r=".8"/><circle cx="35.2" cy="217.1" r=".8"/><circle cx="40.5" cy="217.6" r=".8"/><circle cx="43.6" cy="218.9" r=".8"/><circle cx="48.3" cy="219.1" r=".8"/><circle cx="52.7" cy="219.4" r=".8"/><circle cx="57.1" cy="219.0" r=".8"/><circle cx="59.9" cy="218.7" r=".8"/><circle cx="63.7" cy="218.6" r=".8"/><circle cx="68.8" cy="219.5" r=".8"/><circle cx="72.4" cy="217.6" r=".8"/><circle cx="76.8" cy="218.8" r=".8"/><circle cx="85.2" cy="218.5" r=".8"/><circle cx="87.5" cy="219.4" r=".8"/><circle cx="91.6" cy="217.3" r=".8"/><circle cx="96.1" cy="219.1" r=".8"/><circle cx="32.9" cy="222.6" r=".8"/><circle cx="37.6" cy="222.6" r=".8"/><circle cx="41.1" cy="221.9" r=".8"/><circle cx="50.0" cy="223.0" r=".8"/><circle cx="53.3" cy="221.9" r=".8"/><circle cx="58.6" cy="222.2" r=".8"/><circle cx="62.9" cy="222.0" r=".8"/><circle cx="65.7" cy="222.8" r=".8"/><circle cx="74.1" cy="222.1" r=".8"/><circle cx="78.1" cy="221.9" r=".8"/><circle cx="80.8" cy="223.1" r=".8"/><circle cx="85.7" cy="222.7" r=".8"/><circle cx="90.0" cy="222.4" r=".8"/><circle cx="33.1" cy="224.8" r=".8"/><circle cx="35.0" cy="225.2" r=".8"/><circle cx="41.0" cy="225.3" r=".8"/><circle cx="47.1" cy="226.1" r=".8"/><circle cx="51.2" cy="224.7" r=".8"/><circle cx="55.5" cy="225.0" r=".8"/><circle cx="59.0" cy="226.0" r=".8"/><circle cx="64.0" cy="224.7" r=".8"/><circle cx="68.1" cy="225.2" r=".8"/><circle cx="71.8" cy="225.4" r=".8"/><circle cx="75.2" cy="225.7" r=".8"/><circle cx="80.1" cy="226.3" r=".8"/><circle cx="84.9" cy="224.7" r=".8"/><circle cx="88.8" cy="226.4" r=".8"/><circle cx="91.5" cy="226.4" r=".8"/><circle cx="34.6" cy="228.2" r=".8"/><circle cx="38.9" cy="228.6" r=".8"/><circle cx="41.0" cy="228.6" r=".8"/><circle cx="44.8" cy="228.1" r=".8"/><circle cx="51.1" cy="230.0" r=".8"/><circle cx="54.0" cy="229.5" r=".8"/><circle cx="58.5" cy="228.0" r=".8"/><circle cx="61.0" cy="227.7" r=".8"/><circle cx="66.0" cy="229.0" r=".8"/><circle cx="69.2" cy="228.1" r=".8"/><circle cx="75.3" cy="229.9" r=".8"/><circle cx="76.9" cy="230.0" r=".8"/><circle cx="82.7" cy="228.4" r=".8"/><circle cx="86.0" cy="228.7" r=".8"/><circle cx="88.8" cy="229.4" r=".8"/><circle cx="32.6" cy="232.1" r=".8"/><circle cx="35.1" cy="232.4" r=".8"/><circle cx="41.0" cy="233.1" r=".8"/><circle cx="44.9" cy="232.7" r=".8"/><circle cx="52.8" cy="231.7" r=".8"/><circle cx="56.6" cy="233.0" r=".8"/><circle cx="59.8" cy="233.3" r=".8"/><circle cx="64.5" cy="233.0" r=".8"/><circle cx="67.8" cy="232.9" r=".8"/><circle cx="71.6" cy="232.2" r=".8"/><circle cx="75.6" cy="232.7" r=".8"/><circle cx="73.0" cy="239.6" r=".8"/><circle cx="47.0" cy="245.0" r=".8"/><circle cx="63.3" cy="244.9" r=".8"/><circle cx="70.9" cy="241.9" r=".8"/><circle cx="45.7" cy="248.1" r=".8"/><circle cx="50.4" cy="247.9" r=".8"/><circle cx="56.6" cy="248.7" r=".8"/><circle cx="62.8" cy="247.7" r=".8"/><circle cx="67.0" cy="246.7" r=".8"/><circle cx="166.3" cy="177.6" r=".8"/><circle cx="172.9" cy="177.7" r=".8"/><circle cx="177.1" cy="177.6" r=".8"/><circle cx="180.9" cy="177.7" r=".8"/><circle cx="163.7" cy="180.3" r=".8"/><circle cx="166.4" cy="180.5" r=".8"/><circle cx="171.2" cy="180.3" r=".8"/><circle cx="180.1" cy="180.9" r=".8"/><circle cx="181.9" cy="179.4" r=".8"/><circle cx="187.3" cy="179.0" r=".8"/><circle cx="189.9" cy="178.9" r=".8"/><circle cx="195.1" cy="180.3" r=".8"/><circle cx="202.6" cy="180.6" r=".8"/><circle cx="169.6" cy="184.5" r=".8"/><circle cx="172.7" cy="182.4" r=".8"/><circle cx="175.9" cy="182.4" r=".8"/><circle cx="181.0" cy="183.9" r=".8"/><circle cx="185.7" cy="182.4" r=".8"/><circle cx="189.4" cy="182.4" r=".8"/><circle cx="193.6" cy="184.0" r=".8"/><circle cx="196.1" cy="183.1" r=".8"/><circle cx="200.7" cy="182.5" r=".8"/><circle cx="210.1" cy="183.3" r=".8"/><circle cx="212.5" cy="183.0" r=".8"/><circle cx="218.1" cy="184.5" r=".8"/><circle cx="167.2" cy="187.7" r=".8"/><circle cx="171.9" cy="187.1" r=".8"/><circle cx="175.7" cy="187.9" r=".8"/><circle cx="177.8" cy="187.0" r=".8"/><circle cx="183.2" cy="188.1" r=".8"/><circle cx="187.8" cy="185.8" r=".8"/><circle cx="191.7" cy="185.9" r=".8"/><circle cx="195.6" cy="188.0" r=".8"/><circle cx="199.3" cy="186.0" r=".8"/><circle cx="203.4" cy="186.3" r=".8"/><circle cx="207.7" cy="187.0" r=".8"/><circle cx="215.4" cy="186.9" r=".8"/><circle cx="219.6" cy="187.5" r=".8"/><circle cx="222.8" cy="187.8" r=".8"/><circle cx="170.2" cy="190.8" r=".8"/><circle cx="173.5" cy="191.2" r=".8"/><circle cx="176.8" cy="189.5" r=".8"/><circle cx="182.3" cy="190.1" r=".8"/><circle cx="184.2" cy="190.2" r=".8"/><circle cx="190.2" cy="189.3" r=".8"/><circle cx="192.0" cy="190.8" r=".8"/><circle cx="196.2" cy="189.3" r=".8"/><circle cx="201.2" cy="191.5" r=".8"/><circle cx="204.0" cy="189.6" r=".8"/><circle cx="208.3" cy="191.0" r=".8"/><circle cx="212.3" cy="189.6" r=".8"/><circle cx="216.2" cy="191.1" r=".8"/><circle cx="221.1" cy="191.2" r=".8"/><circle cx="224.4" cy="191.4" r=".8"/><circle cx="175.8" cy="193.6" r=".8"/><circle cx="183.4" cy="193.2" r=".8"/><circle cx="186.9" cy="193.6" r=".8"/><circle cx="191.5" cy="194.2" r=".8"/><circle cx="194.1" cy="193.4" r=".8"/><circle cx="199.9" cy="193.9" r=".8"/><circle cx="204.3" cy="193.3" r=".8"/><circle cx="206.1" cy="194.6" r=".8"/><circle cx="211.8" cy="194.8" r=".8"/><circle cx="213.9" cy="193.3" r=".8"/><circle cx="218.0" cy="193.8" r=".8"/><circle cx="224.2" cy="194.1" r=".8"/><circle cx="177.1" cy="196.5" r=".8"/><circle cx="180.5" cy="196.9" r=".8"/><circle cx="184.5" cy="197.3" r=".8"/><circle cx="188.6" cy="197.9" r=".8"/><circle cx="197.8" cy="197.8" r=".8"/><circle cx="200.7" cy="197.9" r=".8"/><circle cx="205.2" cy="197.3" r=".8"/><circle cx="210.3" cy="198.1" r=".8"/><circle cx="213.3" cy="196.8" r=".8"/><circle cx="217.1" cy="196.9" r=".8"/><circle cx="220.7" cy="197.8" r=".8"/><circle cx="178.0" cy="201.3" r=".8"/><circle cx="182.2" cy="200.6" r=".8"/><circle cx="187.2" cy="199.8" r=".8"/><circle cx="190.1" cy="199.9" r=".8"/><circle cx="196.2" cy="208.4" r=".8"/><circle cx="212.4" cy="208.8" r=".8"/><circle cx="216.5" cy="208.4" r=".8"/><circle cx="180.5" cy="211.5" r=".8"/><circle cx="184.8" cy="211.3" r=".8"/><circle cx="188.0" cy="210.3" r=".8"/><circle cx="192.4" cy="210.8" r=".8"/><circle cx="196.6" cy="211.1" r=".8"/><circle cx="201.7" cy="210.6" r=".8"/><circle cx="204.4" cy="211.5" r=".8"/><circle cx="211.0" cy="211.3" r=".8"/><circle cx="213.6" cy="211.4" r=".8"/><circle cx="218.6" cy="211.7" r=".8"/><circle cx="223.3" cy="212.0" r=".8"/><circle cx="225.9" cy="210.9" r=".8"/><circle cx="231.3" cy="211.1" r=".8"/><circle cx="234.2" cy="212.1" r=".8"/><circle cx="243.2" cy="211.3" r=".8"/><circle cx="246.1" cy="211.3" r=".8"/><circle cx="249.8" cy="210.9" r=".8"/><circle cx="254.6" cy="209.9" r=".8"/><circle cx="259.0" cy="210.4" r=".8"/><circle cx="262.8" cy="210.4" r=".8"/><circle cx="268.2" cy="212.3" r=".8"/><circle cx="272.2" cy="210.9" r=".8"/><circle cx="274.6" cy="211.7" r=".8"/><circle cx="280.5" cy="210.0" r=".8"/><circle cx="286.3" cy="210.4" r=".8"/><circle cx="180.0" cy="215.5" r=".8"/><circle cx="182.7" cy="214.9" r=".8"/><circle cx="186.0" cy="215.7" r=".8"/><circle cx="195.3" cy="213.9" r=".8"/><circle cx="200.6" cy="215.7" r=".8"/><circle cx="204.5" cy="214.3" r=".8"/><circle cx="211.0" cy="215.0" r=".8"/><circle cx="216.9" cy="213.5" r=".8"/><circle cx="225.1" cy="215.2" r=".8"/><circle cx="228.7" cy="215.8" r=".8"/><circle cx="231.2" cy="213.9" r=".8"/><circle cx="237.0" cy="213.8" r=".8"/><circle cx="239.8" cy="215.1" r=".8"/><circle cx="244.3" cy="215.1" r=".8"/><circle cx="248.9" cy="213.9" r=".8"/><circle cx="253.9" cy="215.1" r=".8"/><circle cx="260.8" cy="214.7" r=".8"/><circle cx="263.9" cy="214.9" r=".8"/><circle cx="268.5" cy="215.4" r=".8"/><circle cx="272.7" cy="215.3" r=".8"/><circle cx="276.8" cy="214.8" r=".8"/><circle cx="282.5" cy="215.9" r=".8"/><circle cx="285.5" cy="215.3" r=".8"/><circle cx="290.8" cy="214.6" r=".8"/><circle cx="293.9" cy="215.0" r=".8"/><circle cx="181.5" cy="218.9" r=".8"/><circle cx="185.2" cy="219.1" r=".8"/><circle cx="189.3" cy="219.4" r=".8"/><circle cx="194.1" cy="217.3" r=".8"/><circle cx="196.8" cy="218.0" r=".8"/><circle cx="202.3" cy="219.0" r=".8"/><circle cx="205.6" cy="217.5" r=".8"/><circle cx="209.7" cy="217.0" r=".8"/><circle cx="214.4" cy="218.4" r=".8"/><circle cx="217.1" cy="217.3" r=".8"/><circle cx="222.0" cy="218.0" r=".8"/><circle cx="225.5" cy="219.0" r=".8"/><circle cx="231.3" cy="218.4" r=".8"/><circle cx="235.1" cy="217.5" r=".8"/><circle cx="238.0" cy="217.0" r=".8"/><circle cx="242.9" cy="218.3" r=".8"/><circle cx="246.9" cy="217.1" r=".8"/><circle cx="249.9" cy="217.6" r=".8"/><circle cx="255.4" cy="219.1" r=".8"/><circle cx="257.8" cy="218.0" r=".8"/><circle cx="262.3" cy="219.4" r=".8"/><circle cx="270.3" cy="218.1" r=".8"/><circle cx="274.1" cy="217.5" r=".8"/><circle cx="278.5" cy="217.9" r=".8"/><circle cx="283.4" cy="217.1" r=".8"/><circle cx="289.0" cy="218.9" r=".8"/><circle cx="291.0" cy="217.6" r=".8"/><circle cx="184.2" cy="221.4" r=".8"/><circle cx="188.5" cy="222.1" r=".8"/><circle cx="191.0" cy="222.2" r=".8"/><circle cx="195.0" cy="222.3" r=".8"/><circle cx="199.7" cy="222.8" r=".8"/><circle cx="203.3" cy="222.7" r=".8"/><circle cx="208.4" cy="221.0" r=".8"/><circle cx="211.0" cy="221.9" r=".8"/><circle cx="215.1" cy="221.0" r=".8"/><circle cx="224.6" cy="222.7" r=".8"/><circle cx="227.9" cy="220.6" r=".8"/><circle cx="231.9" cy="221.2" r=".8"/><circle cx="235.6" cy="221.1" r=".8"/><circle cx="241.6" cy="222.3" r=".8"/><circle cx="248.3" cy="222.5" r=".8"/><circle cx="253.9" cy="220.5" r=".8"/><circle cx="256.6" cy="220.7" r=".8"/><circle cx="260.5" cy="222.5" r=".8"/><circle cx="263.9" cy="221.5" r=".8"/><circle cx="268.0" cy="220.9" r=".8"/><circle cx="272.1" cy="221.3" r=".8"/><circle cx="277.5" cy="220.8" r=".8"/><circle cx="280.9" cy="222.4" r=".8"/><circle cx="284.7" cy="221.0" r=".8"/><circle cx="290.3" cy="221.5" r=".8"/><circle cx="184.4" cy="224.1" r=".8"/><circle cx="189.6" cy="225.5" r=".8"/><circle cx="194.6" cy="224.8" r=".8"/><circle cx="198.5" cy="224.6" r=".8"/><circle cx="202.0" cy="226.5" r=".8"/><circle cx="205.0" cy="225.7" r=".8"/><circle cx="209.6" cy="225.1" r=".8"/><circle cx="213.5" cy="224.9" r=".8"/><circle cx="217.4" cy="224.4" r=".8"/><circle cx="222.0" cy="224.5" r=".8"/><circle cx="225.5" cy="224.3" r=".8"/><circle cx="230.0" cy="224.4" r=".8"/><circle cx="234.9" cy="225.5" r=".8"/><circle cx="237.2" cy="225.0" r=".8"/><circle cx="241.4" cy="225.1" r=".8"/><circle cx="246.6" cy="225.6" r=".8"/><circle cx="250.3" cy="224.7" r=".8"/><circle cx="254.4" cy="226.4" r=".8"/><circle cx="258.3" cy="225.8" r=".8"/><circle cx="272.0" cy="225.7" r=".8"/><circle cx="275.1" cy="225.1" r=".8"/><circle cx="280.3" cy="226.3" r=".8"/><circle cx="284.6" cy="224.1" r=".8"/><circle cx="287.7" cy="224.8" r=".8"/><circle cx="293.0" cy="224.4" r=".8"/><circle cx="182.4" cy="227.6" r=".8"/><circle cx="186.9" cy="228.2" r=".8"/><circle cx="191.7" cy="229.0" r=".8"/><circle cx="199.1" cy="228.5" r=".8"/><circle cx="203.1" cy="229.5" r=".8"/><circle cx="208.2" cy="230.1" r=".8"/><circle cx="210.9" cy="229.2" r=".8"/><circle cx="216.1" cy="228.6" r=".8"/><circle cx="220.7" cy="229.0" r=".8"/><circle cx="223.4" cy="228.4" r=".8"/><circle cx="228.2" cy="227.9" r=".8"/><circle cx="231.2" cy="227.9" r=".8"/><circle cx="235.4" cy="228.8" r=".8"/><circle cx="240.4" cy="228.0" r=".8"/><circle cx="245.6" cy="227.7" r=".8"/><circle cx="248.7" cy="229.7" r=".8"/><circle cx="253.4" cy="228.3" r=".8"/><circle cx="256.4" cy="228.5" r=".8"/><circle cx="261.9" cy="229.8" r=".8"/><circle cx="264.9" cy="229.4" r=".8"/><circle cx="270.1" cy="229.7" r=".8"/><circle cx="273.0" cy="229.3" r=".8"/><circle cx="276.6" cy="227.6" r=".8"/><circle cx="282.7" cy="230.1" r=".8"/><circle cx="286.1" cy="228.7" r=".8"/><circle cx="292.6" cy="229.5" r=".8"/><circle cx="185.8" cy="233.8" r=".8"/><circle cx="188.8" cy="231.2" r=".8"/><circle cx="193.3" cy="232.1" r=".8"/><circle cx="198.2" cy="233.4" r=".8"/><circle cx="201.3" cy="232.8" r=".8"/><circle cx="206.9" cy="232.2" r=".8"/><circle cx="212.9" cy="231.6" r=".8"/><circle cx="219.1" cy="231.8" r=".8"/><circle cx="221.1" cy="232.0" r=".8"/><circle cx="226.3" cy="231.5" r=".8"/><circle cx="229.7" cy="231.8" r=".8"/><circle cx="234.0" cy="231.8" r=".8"/><circle cx="242.0" cy="231.4" r=".8"/><circle cx="254.8" cy="232.2" r=".8"/><circle cx="258.7" cy="231.3" r=".8"/><circle cx="263.5" cy="232.8" r=".8"/><circle cx="272.5" cy="232.3" r=".8"/><circle cx="275.9" cy="231.6" r=".8"/><circle cx="278.6" cy="231.5" r=".8"/><circle cx="287.2" cy="232.5" r=".8"/><circle cx="355.1" cy="194.6" r=".8"/><circle cx="360.2" cy="194.1" r=".8"/><circle cx="342.2" cy="198.5" r=".8"/><circle cx="345.3" cy="197.7" r=".8"/><circle cx="350.2" cy="198.1" r=".8"/><circle cx="353.9" cy="197.4" r=".8"/><circle cx="356.8" cy="197.8" r=".8"/><circle cx="361.7" cy="196.3" r=".8"/><circle cx="365.6" cy="197.8" r=".8"/><circle cx="371.0" cy="196.7" r=".8"/><circle cx="375.2" cy="198.2" r=".8"/><circle cx="378.7" cy="198.9" r=".8"/><circle cx="334.3" cy="201.9" r=".8"/><circle cx="344.0" cy="200.2" r=".8"/><circle cx="346.3" cy="199.9" r=".8"/><circle cx="352.4" cy="202.0" r=".8"/><circle cx="354.7" cy="200.8" r=".8"/><circle cx="359.9" cy="202.2" r=".8"/><circle cx="365.0" cy="200.4" r=".8"/><circle cx="368.8" cy="201.7" r=".8"/><circle cx="372.3" cy="201.0" r=".8"/><circle cx="375.6" cy="200.6" r=".8"/><circle cx="379.5" cy="201.4" r=".8"/><circle cx="383.4" cy="200.2" r=".8"/><circle cx="334.1" cy="204.3" r=".8"/><circle cx="336.4" cy="204.9" r=".8"/><circle cx="342.1" cy="204.1" r=".8"/><circle cx="349.1" cy="205.3" r=".8"/><circle cx="353.3" cy="203.6" r=".8"/><circle cx="361.1" cy="205.2" r=".8"/><circle cx="365.1" cy="204.5" r=".8"/><circle cx="370.9" cy="204.0" r=".8"/><circle cx="373.5" cy="205.5" r=".8"/><circle cx="378.3" cy="204.8" r=".8"/><circle cx="383.2" cy="203.6" r=".8"/><circle cx="327.3" cy="209.6" r=".8"/><circle cx="330.8" cy="208.0" r=".8"/><circle cx="334.3" cy="209.6" r=".8"/><circle cx="338.8" cy="207.3" r=".8"/><circle cx="343.8" cy="207.2" r=".8"/><circle cx="347.7" cy="208.6" r=".8"/><circle cx="350.8" cy="209.1" r=".8"/><circle cx="356.2" cy="207.3" r=".8"/><circle cx="364.7" cy="207.0" r=".8"/><circle cx="367.9" cy="208.4" r=".8"/><circle cx="372.7" cy="207.7" r=".8"/><circle cx="375.0" cy="208.4" r=".8"/><circle cx="379.0" cy="208.3" r=".8"/><circle cx="384.9" cy="207.6" r=".8"/><circle cx="323.5" cy="210.9" r=".8"/><circle cx="329.5" cy="212.4" r=".8"/><circle cx="333.0" cy="210.6" r=".8"/><circle cx="336.5" cy="213.1" r=".8"/><circle cx="342.1" cy="210.6" r=".8"/><circle cx="344.1" cy="211.2" r=".8"/><circle cx="350.4" cy="211.4" r=".8"/><circle cx="361.4" cy="211.3" r=".8"/><circle cx="365.1" cy="211.5" r=".8"/><circle cx="369.8" cy="211.5" r=".8"/><circle cx="373.8" cy="210.7" r=".8"/><circle cx="376.9" cy="211.9" r=".8"/><circle cx="381.9" cy="211.1" r=".8"/><circle cx="385.9" cy="211.3" r=".8"/><circle cx="297.9" cy="216.6" r=".8"/><circle cx="302.4" cy="216.6" r=".8"/><circle cx="306.6" cy="215.1" r=".8"/><circle cx="310.7" cy="215.6" r=".8"/><circle cx="314.5" cy="215.4" r=".8"/><circle cx="322.0" cy="214.8" r=".8"/><circle cx="326.6" cy="216.3" r=".8"/><circle cx="330.3" cy="215.9" r=".8"/><circle cx="336.3" cy="216.3" r=".8"/><circle cx="338.6" cy="216.2" r=".8"/><circle cx="343.6" cy="214.2" r=".8"/><circle cx="346.1" cy="215.7" r=".8"/><circle cx="352.5" cy="215.8" r=".8"/><circle cx="356.6" cy="216.1" r=".8"/><circle cx="358.3" cy="216.0" r=".8"/><circle cx="366.7" cy="216.1" r=".8"/><circle cx="372.6" cy="215.1" r=".8"/><circle cx="375.8" cy="214.4" r=".8"/><circle cx="380.7" cy="214.3" r=".8"/><circle cx="385.1" cy="215.8" r=".8"/><circle cx="387.3" cy="214.4" r=".8"/><circle cx="299.4" cy="218.7" r=".8"/><circle cx="305.1" cy="218.0" r=".8"/><circle cx="308.3" cy="217.7" r=".8"/><circle cx="316.5" cy="219.5" r=".8"/><circle cx="321.4" cy="217.9" r=".8"/><circle cx="323.9" cy="219.2" r=".8"/><circle cx="328.4" cy="218.1" r=".8"/><circle cx="333.2" cy="219.0" r=".8"/><circle cx="337.2" cy="219.9" r=".8"/><circle cx="344.8" cy="219.5" r=".8"/><circle cx="348.7" cy="219.6" r=".8"/><circle cx="352.8" cy="217.8" r=".8"/><circle cx="357.2" cy="219.5" r=".8"/><circle cx="366.8" cy="218.9" r=".8"/><circle cx="369.1" cy="219.6" r=".8"/><circle cx="373.4" cy="219.9" r=".8"/><circle cx="378.6" cy="219.1" r=".8"/><circle cx="386.9" cy="219.8" r=".8"/><circle cx="298.4" cy="221.5" r=".8"/><circle cx="311.0" cy="222.0" r=".8"/><circle cx="315.1" cy="221.9" r=".8"/><circle cx="317.3" cy="222.6" r=".8"/><circle cx="322.2" cy="221.9" r=".8"/><circle cx="326.8" cy="221.9" r=".8"/><circle cx="330.3" cy="222.6" r=".8"/><circle cx="334.1" cy="223.5" r=".8"/><circle cx="339.4" cy="222.7" r=".8"/><circle cx="348.0" cy="221.9" r=".8"/><circle cx="352.5" cy="222.2" r=".8"/><circle cx="354.8" cy="222.4" r=".8"/><circle cx="360.2" cy="223.7" r=".8"/><circle cx="363.9" cy="222.1" r=".8"/><circle cx="375.0" cy="222.7" r=".8"/><circle cx="381.4" cy="222.0" r=".8"/><circle cx="383.0" cy="223.0" r=".8"/><circle cx="296.5" cy="227.0" r=".8"/><circle cx="300.2" cy="225.0" r=".8"/><circle cx="303.4" cy="226.2" r=".8"/><circle cx="308.3" cy="225.3" r=".8"/><circle cx="312.2" cy="226.1" r=".8"/><circle cx="320.8" cy="225.1" r=".8"/><circle cx="333.9" cy="227.2" r=".8"/><circle cx="337.0" cy="226.3" r=".8"/><circle cx="348.1" cy="225.1" r=".8"/><circle cx="354.6" cy="224.9" r=".8"/><circle cx="358.4" cy="226.6" r=".8"/><circle cx="361.9" cy="226.8" r=".8"/><circle cx="364.4" cy="225.0" r=".8"/><circle cx="371.1" cy="227.0" r=".8"/><circle cx="373.5" cy="225.7" r=".8"/><circle cx="378.8" cy="225.5" r=".8"/><circle cx="382.2" cy="225.7" r=".8"/><circle cx="386.1" cy="225.4" r=".8"/><circle cx="389.5" cy="225.2" r=".8"/><circle cx="297.7" cy="229.0" r=".8"/><circle cx="301.6" cy="229.7" r=".8"/><circle cx="307.3" cy="228.8" r=".8"/><circle cx="309.9" cy="229.2" r=".8"/><circle cx="315.0" cy="230.4" r=".8"/><circle cx="317.5" cy="230.4" r=".8"/><circle cx="332.2" cy="229.4" r=".8"/><circle cx="335.8" cy="230.4" r=".8"/><circle cx="339.9" cy="229.4" r=".8"/><circle cx="343.4" cy="230.3" r=".8"/><circle cx="348.1" cy="228.4" r=".8"/><circle cx="354.6" cy="228.9" r=".8"/><circle cx="360.8" cy="230.8" r=".8"/><circle cx="364.8" cy="228.7" r=".8"/><circle cx="369.0" cy="228.9" r=".8"/><circle cx="372.4" cy="230.7" r=".8"/><circle cx="377.2" cy="229.5" r=".8"/><circle cx="383.1" cy="228.8" r=".8"/><circle cx="387.1" cy="229.2" r=".8"/><circle cx="34.1" cy="254.2" r=".8"/><circle cx="38.1" cy="255.1" r=".8"/><circle cx="72.8" cy="254.7" r=".8"/><circle cx="31.9" cy="256.7" r=".8"/><circle cx="35.5" cy="256.3" r=".8"/><circle cx="40.3" cy="257.1" r=".8"/><circle cx="44.3" cy="257.0" r=".8"/><circle cx="49.0" cy="257.7" r=".8"/><circle cx="52.1" cy="257.4" r=".8"/><circle cx="60.9" cy="258.5" r=".8"/><circle cx="64.0" cy="258.7" r=".8"/><circle cx="67.2" cy="258.1" r=".8"/><circle cx="75.4" cy="256.4" r=".8"/><circle cx="79.6" cy="257.6" r=".8"/><circle cx="85.1" cy="257.5" r=".8"/><circle cx="86.7" cy="257.5" r=".8"/><circle cx="92.2" cy="257.8" r=".8"/><circle cx="95.0" cy="257.5" r=".8"/><circle cx="30.4" cy="262.2" r=".8"/><circle cx="33.9" cy="259.9" r=".8"/><circle cx="37.3" cy="261.8" r=".8"/><circle cx="41.4" cy="262.0" r=".8"/><circle cx="50.0" cy="260.9" r=".8"/><circle cx="54.9" cy="261.0" r=".8"/><circle cx="57.2" cy="260.2" r=".8"/><circle cx="62.8" cy="262.2" r=".8"/><circle cx="66.5" cy="261.7" r=".8"/><circle cx="70.8" cy="261.7" r=".8"/><circle cx="74.8" cy="260.5" r=".8"/><circle cx="79.1" cy="259.7" r=".8"/><circle cx="81.6" cy="261.7" r=".8"/><circle cx="87.1" cy="262.1" r=".8"/><circle cx="88.9" cy="261.4" r=".8"/><circle cx="95.2" cy="261.9" r=".8"/><circle cx="31.2" cy="264.9" r=".8"/><circle cx="37.2" cy="264.8" r=".8"/><circle cx="40.6" cy="263.3" r=".8"/><circle cx="44.7" cy="265.2" r=".8"/><circle cx="48.2" cy="265.6" r=".8"/><circle cx="52.0" cy="264.1" r=".8"/><circle cx="54.8" cy="263.6" r=".8"/><circle cx="59.3" cy="264.8" r=".8"/><circle cx="64.5" cy="264.5" r=".8"/><circle cx="67.4" cy="263.6" r=".8"/><circle cx="72.5" cy="265.6" r=".8"/><circle cx="77.1" cy="265.5" r=".8"/><circle cx="84.7" cy="264.0" r=".8"/><circle cx="88.1" cy="264.4" r=".8"/><circle cx="92.9" cy="264.5" r=".8"/><circle cx="96.6" cy="263.8" r=".8"/><circle cx="30.2" cy="267.3" r=".8"/><circle cx="32.9" cy="266.8" r=".8"/><circle cx="38.1" cy="269.1" r=".8"/><circle cx="41.8" cy="267.7" r=".8"/><circle cx="45.9" cy="269.1" r=".8"/><circle cx="49.8" cy="268.4" r=".8"/><circle cx="59.0" cy="267.3" r=".8"/><circle cx="63.3" cy="268.0" r=".8"/><circle cx="66.7" cy="266.8" r=".8"/><circle cx="70.1" cy="267.3" r=".8"/><circle cx="74.6" cy="267.5" r=".8"/><circle cx="31.4" cy="271.9" r=".8"/><circle cx="35.0" cy="271.2" r=".8"/><circle cx="40.6" cy="271.2" r=".8"/><circle cx="44.5" cy="271.7" r=".8"/><circle cx="48.5" cy="270.4" r=".8"/><circle cx="51.9" cy="270.2" r=".8"/><circle cx="55.7" cy="271.3" r=".8"/><circle cx="34.3" cy="274.7" r=".8"/><circle cx="152.8" cy="258.9" r=".8"/><circle cx="147.4" cy="262.1" r=".8"/><circle cx="151.3" cy="261.4" r=".8"/><circle cx="155.0" cy="261.5" r=".8"/><circle cx="162.7" cy="262.3" r=".8"/><circle cx="166.8" cy="262.2" r=".8"/><circle cx="172.4" cy="261.3" r=".8"/><circle cx="175.3" cy="261.8" r=".8"/><circle cx="179.6" cy="262.1" r=".8"/><circle cx="187.6" cy="260.8" r=".8"/><circle cx="191.4" cy="262.4" r=".8"/><circle cx="151.8" cy="265.9" r=".8"/><circle cx="156.4" cy="266.3" r=".8"/><circle cx="160.9" cy="264.8" r=".8"/><circle cx="166.0" cy="265.5" r=".8"/><circle cx="170.7" cy="264.6" r=".8"/><circle cx="177.4" cy="265.1" r=".8"/><circle cx="182.9" cy="266.4" r=".8"/><circle cx="185.3" cy="264.9" r=".8"/><circle cx="157.8" cy="267.7" r=".8"/><circle cx="166.1" cy="267.9" r=".8"/><circle cx="172.0" cy="268.1" r=".8"/><circle cx="176.1" cy="269.5" r=".8"/><circle cx="179.8" cy="268.4" r=".8"/><circle cx="183.7" cy="268.6" r=".8"/><circle cx="187.7" cy="268.3" r=".8"/><circle cx="169.4" cy="272.5" r=".8"/><circle cx="177.1" cy="271.3" r=".8"/><circle cx="180.7" cy="273.4" r=".8"/><circle cx="138.6" cy="282.3" r=".8"/><circle cx="140.8" cy="282.6" r=".8"/><circle cx="130.7" cy="284.1" r=".8"/><circle cx="135.0" cy="283.8" r=".8"/><circle cx="139.1" cy="285.9" r=".8"/><circle cx="142.3" cy="285.1" r=".8"/><circle cx="147.9" cy="285.4" r=".8"/><circle cx="149.8" cy="283.7" r=".8"/><circle cx="153.8" cy="284.1" r=".8"/><circle cx="161.9" cy="284.2" r=".8"/><circle cx="165.3" cy="285.1" r=".8"/><circle cx="141.7" cy="287.8" r=".8"/><circle cx="145.2" cy="287.0" r=".8"/><circle cx="148.7" cy="288.2" r=".8"/><circle cx="151.7" cy="289.3" r=".8"/><circle cx="156.2" cy="287.3" r=".8"/><circle cx="161.4" cy="287.3" r=".8"/><circle cx="164.2" cy="288.8" r=".8"/><circle cx="167.4" cy="287.4" r=".8"/><circle cx="170.8" cy="289.0" r=".8"/><circle cx="174.8" cy="288.0" r=".8"/><circle cx="157.7" cy="290.6" r=".8"/><circle cx="162.0" cy="290.6" r=".8"/><circle cx="166.1" cy="291.1" r=".8"/><circle cx="168.8" cy="291.7" r=".8"/><circle cx="173.3" cy="290.2" r=".8"/><circle cx="177.7" cy="291.2" r=".8"/><circle cx="168.4" cy="295.8" r=".8"/><circle cx="171.6" cy="294.9" r=".8"/><circle cx="176.3" cy="293.7" r=".8"/><circle cx="178.9" cy="294.3" r=".8"/><circle cx="182.4" cy="294.6" r=".8"/><circle cx="173.6" cy="298.5" r=".8"/><circle cx="178.2" cy="299.2" r=".8"/><circle cx="181.6" cy="297.2" r=".8"/><circle cx="184.9" cy="297.3" r=".8"/><circle cx="178.9" cy="302.0" r=".8"/><circle cx="183.1" cy="300.1" r=".8"/><circle cx="186.4" cy="301.6" r=".8"/><circle cx="182.2" cy="303.9" r=".8"/><circle cx="186.0" cy="304.6" r=".8"/><circle cx="188.0" cy="305.6" r=".8"/><circle cx="182.1" cy="308.0" r=".8"/><circle cx="187.1" cy="309.0" r=".8"/><circle cx="184.8" cy="311.0" r=".8"/><circle cx="189.3" cy="310.9" r=".8"/><circle cx="186.1" cy="313.5" r=".8"/><circle cx="191.1" cy="313.4" r=".8"/><circle cx="189.4" cy="318.0" r=".8"/><circle cx="193.5" cy="316.9" r=".8"/><circle cx="241.2" cy="259.2" r=".8"/><circle cx="250.9" cy="259.8" r=".8"/><circle cx="262.2" cy="259.7" r=".8"/><circle cx="252.9" cy="263.9" r=".8"/><circle cx="255.3" cy="261.8" r=".8"/><circle cx="261.8" cy="263.9" r=".8"/><circle cx="263.9" cy="262.3" r=".8"/><circle cx="273.4" cy="262.6" r=".8"/><circle cx="277.5" cy="262.6" r=".8"/><circle cx="282.7" cy="262.3" r=".8"/><circle cx="285.5" cy="261.5" r=".8"/><circle cx="242.5" cy="267.4" r=".8"/><circle cx="245.1" cy="266.1" r=".8"/><circle cx="253.9" cy="265.6" r=".8"/><circle cx="257.2" cy="267.2" r=".8"/><circle cx="263.4" cy="267.3" r=".8"/><circle cx="272.1" cy="265.9" r=".8"/><circle cx="287.7" cy="267.8" r=".8"/><circle cx="240.0" cy="269.2" r=".8"/><circle cx="243.3" cy="271.2" r=".8"/><circle cx="252.1" cy="269.0" r=".8"/><circle cx="260.9" cy="271.1" r=".8"/><circle cx="264.2" cy="270.9" r=".8"/><circle cx="268.5" cy="269.0" r=".8"/><circle cx="273.3" cy="270.4" r=".8"/><circle cx="278.0" cy="269.6" r=".8"/><circle cx="282.6" cy="269.8" r=".8"/><circle cx="286.1" cy="269.6" r=".8"/><circle cx="290.2" cy="269.7" r=".8"/><circle cx="245.2" cy="273.8" r=".8"/><circle cx="254.4" cy="273.9" r=".8"/><circle cx="263.7" cy="275.0" r=".8"/><circle cx="267.6" cy="273.9" r=".8"/><circle cx="283.1" cy="273.9" r=".8"/><circle cx="244.1" cy="277.7" r=".8"/><circle cx="247.2" cy="278.8" r=".8"/><circle cx="257.1" cy="277.1" r=".8"/><circle cx="261.2" cy="278.3" r=".8"/><circle cx="266.1" cy="277.8" r=".8"/><circle cx="269.2" cy="277.3" r=".8"/><circle cx="274.6" cy="278.9" r=".8"/><circle cx="277.7" cy="277.1" r=".8"/><circle cx="281.1" cy="277.2" r=".8"/><circle cx="250.3" cy="281.7" r=".8"/><circle cx="255.6" cy="280.9" r=".8"/><circle cx="257.4" cy="280.6" r=".8"/><circle cx="263.7" cy="280.2" r=".8"/><circle cx="249.0" cy="284.4" r=".8"/><circle cx="260.8" cy="284.0" r=".8"/><circle cx="268.0" cy="284.0" r=".8"/><circle cx="258.2" cy="288.2" r=".8"/><circle cx="301.2" cy="258.4" r=".8"/><circle cx="305.0" cy="259.2" r=".8"/><circle cx="303.2" cy="261.0" r=".8"/><circle cx="306.3" cy="261.0" r=".8"/><circle cx="309.2" cy="261.2" r=".8"/><circle cx="315.3" cy="262.3" r=".8"/><circle cx="318.8" cy="262.5" r=".8"/><circle cx="321.5" cy="260.6" r=".8"/><circle cx="327.6" cy="262.9" r=".8"/><circle cx="330.0" cy="261.7" r=".8"/><circle cx="342.8" cy="260.4" r=".8"/><circle cx="346.6" cy="260.8" r=".8"/><circle cx="351.6" cy="261.1" r=".8"/><circle cx="356.5" cy="262.9" r=".8"/><circle cx="370.8" cy="262.7" r=".8"/><circle cx="378.7" cy="262.3" r=".8"/><circle cx="300.1" cy="265.0" r=".8"/><circle cx="304.7" cy="263.9" r=".8"/><circle cx="309.4" cy="265.6" r=".8"/><circle cx="313.0" cy="265.7" r=".8"/><circle cx="317.2" cy="265.3" r=".8"/><circle cx="320.7" cy="264.5" r=".8"/><circle cx="325.7" cy="264.7" r=".8"/><circle cx="328.5" cy="264.3" r=".8"/><circle cx="337.2" cy="264.0" r=".8"/><circle cx="339.9" cy="265.4" r=".8"/><circle cx="346.4" cy="264.6" r=".8"/><circle cx="348.6" cy="264.2" r=".8"/><circle cx="353.4" cy="264.9" r=".8"/><circle cx="358.7" cy="264.6" r=".8"/><circle cx="361.7" cy="264.1" r=".8"/><circle cx="366.0" cy="266.1" r=".8"/><circle cx="370.3" cy="264.4" r=".8"/><circle cx="374.8" cy="265.7" r=".8"/><circle cx="303.2" cy="267.6" r=".8"/><circle cx="305.0" cy="269.7" r=".8"/><circle cx="309.3" cy="268.3" r=".8"/><circle cx="314.3" cy="269.0" r=".8"/><circle cx="317.5" cy="268.8" r=".8"/><circle cx="322.5" cy="269.5" r=".8"/><circle cx="327.6" cy="268.0" r=".8"/><circle cx="331.6" cy="267.4" r=".8"/><circle cx="339.6" cy="268.0" r=".8"/><circle cx="343.1" cy="268.1" r=".8"/><circle cx="346.2" cy="269.2" r=".8"/><circle cx="356.4" cy="269.7" r=".8"/><circle cx="360.8" cy="267.8" r=".8"/><circle cx="364.8" cy="267.9" r=".8"/><circle cx="366.8" cy="267.6" r=".8"/><circle cx="372.1" cy="268.6" r=".8"/><circle cx="376.3" cy="267.7" r=".8"/><circle cx="380.3" cy="269.1" r=".8"/><circle cx="304.2" cy="271.0" r=".8"/><circle cx="321.4" cy="271.5" r=".8"/><circle cx="323.5" cy="273.0" r=".8"/><circle cx="330.1" cy="271.7" r=".8"/><circle cx="333.9" cy="273.5" r=".8"/><circle cx="338.0" cy="273.4" r=".8"/><circle cx="341.4" cy="271.1" r=".8"/><circle cx="346.4" cy="272.3" r=".8"/><circle cx="349.5" cy="271.1" r=".8"/><circle cx="352.3" cy="272.1" r=".8"/><circle cx="361.5" cy="272.1" r=".8"/><circle cx="366.5" cy="272.5" r=".8"/><circle cx="368.9" cy="272.2" r=".8"/><circle cx="372.9" cy="271.2" r=".8"/><circle cx="339.4" cy="282.2" r=".8"/><circle cx="357.8" cy="281.8" r=".8"/><circle cx="371.6" cy="282.1" r=".8"/><circle cx="319.4" cy="285.5" r=".8"/><circle cx="328.5" cy="283.9" r=".8"/><circle cx="331.9" cy="283.6" r=".8"/><circle cx="336.7" cy="283.9" r=".8"/><circle cx="341.3" cy="283.6" r=".8"/><circle cx="353.1" cy="285.7" r=".8"/><circle cx="357.2" cy="284.1" r=".8"/><circle cx="361.2" cy="283.9" r=".8"/><circle cx="366.1" cy="285.1" r=".8"/><circle cx="368.0" cy="284.2" r=".8"/><circle cx="374.3" cy="284.7" r=".8"/><circle cx="377.7" cy="284.7" r=".8"/><circle cx="381.7" cy="284.7" r=".8"/><circle cx="323.1" cy="289.3" r=".8"/><circle cx="326.4" cy="288.2" r=".8"/><circle cx="329.5" cy="288.9" r=".8"/><circle cx="333.7" cy="287.6" r=".8"/><circle cx="337.7" cy="287.0" r=".8"/><circle cx="341.7" cy="288.5" r=".8"/><circle cx="347.0" cy="288.1" r=".8"/><circle cx="350.3" cy="288.0" r=".8"/><circle cx="354.2" cy="288.7" r=".8"/><circle cx="360.2" cy="288.4" r=".8"/><circle cx="363.8" cy="287.6" r=".8"/><circle cx="367.0" cy="288.7" r=".8"/><circle cx="375.4" cy="289.4" r=".8"/><circle cx="379.2" cy="287.1" r=".8"/><circle cx="324.5" cy="292.4" r=".8"/><circle cx="328.9" cy="292.0" r=".8"/><circle cx="332.5" cy="292.1" r=".8"/><circle cx="352.5" cy="290.8" r=".8"/><circle cx="366.5" cy="290.6" r=".8"/><circle cx="205.3" cy="238.2" r=".8"/><circle cx="202.0" cy="241.9" r=".8"/><circle cx="226.3" cy="244.9" r=".8"/><circle cx="230.9" cy="244.0" r=".8"/><circle cx="240.4" cy="244.0" r=".8"/><circle cx="245.5" cy="245.5" r=".8"/><circle cx="252.9" cy="242.3" r=".8"/><circle cx="274.6" cy="246.3" r=".8"/><circle cx="292.7" cy="242.0" r=".8"/><circle cx="301.7" cy="242.7" r=".8"/><circle cx="309.7" cy="243.8" r=".8"/><circle cx="331.0" cy="245.4" r=".8"/><circle cx="337.8" cy="242.3" r=".8"/><circle cx="349.5" cy="246.1" r=".8"/><circle cx="358.9" cy="246.1" r=".8"/><circle cx="365.7" cy="244.1" r=".8"/><circle cx="212.9" cy="249.7" r=".8"/><circle cx="233.2" cy="250.1" r=".8"/><circle cx="241.1" cy="252.2" r=".8"/><circle cx="254.3" cy="248.9" r=".8"/><circle cx="303.6" cy="248.2" r=".8"/><circle cx="312.1" cy="250.6" r=".8"/><circle cx="361.5" cy="249.9" r=".8"/><circle cx="374.2" cy="249.3" r=".8"/><circle cx="205.6" cy="256.0" r=".8"/><circle cx="223.9" cy="254.1" r=".8"/><circle cx="272.1" cy="256.3" r=".8"/><circle cx="286.6" cy="257.0" r=".8"/><circle cx="301.9" cy="257.2" r=".8"/><circle cx="317.2" cy="254.8" r=".8"/><circle cx="349.4" cy="256.1" r=".8"/><circle cx="356.8" cy="256.6" r=".8"/><circle cx="363.4" cy="254.6" r=".8"/><circle cx="371.6" cy="257.3" r=".8"/><circle cx="384.5" cy="258.1" r=".8"/>
</g>
<g id="pond"><path d="M92.3,229.0 C92.8,223.6 93.6,226.2 98.0,219.5 C102.4,212.8 100.0,216.0 105.5,209.0 C111.0,202.0 107.7,205.2 114.5,198.5 C121.3,191.8 117.8,194.3 126.0,189.0 C134.2,183.7 130.3,185.5 139.0,182.6 C147.7,179.7 143.7,179.8 152.0,180.2 C160.3,180.6 157.2,179.4 164.0,183.8 C170.8,188.2 168.5,186.1 172.5,193.5 C176.5,200.9 175.7,198.2 176.0,206.0 C176.3,213.8 177.5,210.8 173.5,217.0 C169.5,223.2 172.2,220.9 164.0,224.5 C155.8,228.1 160.0,226.3 149.0,227.8 C138.0,229.3 141.2,227.2 131.0,229.0 C120.8,230.8 126.5,230.5 118.5,233.3 C110.5,236.1 114.4,236.5 107.0,237.3 C99.6,238.1 101.3,238.6 96.4,235.8 C91.5,233.0 91.8,234.4 92.3,229.0Z" fill="url(#pd)" opacity="0.93"/><path d="M186,280 C185,268 192,262 205,260 C218,257.5 230,258 233,268 C236,278 234,287 242,293 C252,300 258,306 256,316 C254,326 244,330.5 233,329.5 C218,328 205,319 197,306 C190,295 187,288 186,280 Z" fill="url(#pd)" opacity="0.93"/></g>
<clipPath id="pondclip"><path d="M92.3,229.0 C92.8,223.6 93.6,226.2 98.0,219.5 C102.4,212.8 100.0,216.0 105.5,209.0 C111.0,202.0 107.7,205.2 114.5,198.5 C121.3,191.8 117.8,194.3 126.0,189.0 C134.2,183.7 130.3,185.5 139.0,182.6 C147.7,179.7 143.7,179.8 152.0,180.2 C160.3,180.6 157.2,179.4 164.0,183.8 C170.8,188.2 168.5,186.1 172.5,193.5 C176.5,200.9 175.7,198.2 176.0,206.0 C176.3,213.8 177.5,210.8 173.5,217.0 C169.5,223.2 172.2,220.9 164.0,224.5 C155.8,228.1 160.0,226.3 149.0,227.8 C138.0,229.3 141.2,227.2 131.0,229.0 C120.8,230.8 126.5,230.5 118.5,233.3 C110.5,236.1 114.4,236.5 107.0,237.3 C99.6,238.1 101.3,238.6 96.4,235.8 C91.5,233.0 91.8,234.4 92.3,229.0Z"/><path d="M186,280 C185,268 192,262 205,260 C218,257.5 230,258 233,268 C236,278 234,287 242,293 C252,300 258,306 256,316 C254,326 244,330.5 233,329.5 C218,328 205,319 197,306 C190,295 187,288 186,280 Z"/></clipPath>
<g id="ctp" clip-path="url(#pondclip)" fill="none"><g stroke="#9db3bf" stroke-width="0.9">
<path d="M37.0,126.0 L35.9,128.7 Q35.0,131.0 33.3,135.7 L29.0,148.0"/>
<path d="M83.3,126.0 L83.3,157.5 Q83.3,162.5 81.2,167.0 L70.4,190.5 Q68.3,195.0 63.5,196.4 L26.0,207.5"/>
<path d="M26.0,283.0 L65.4,300.9 Q70.0,303.0 72.2,307.5 L84.5,332.2 Q86.7,336.7 86.6,341.7 L85.8,388.0"/>
<path d="M144.5,126.0 L142.2,130.9 Q140.3,135.0 137.5,139.1 L110.8,177.6 Q108.0,181.7 107.4,186.7 L106.4,195.0 Q105.8,200.0 103.2,203.6 L102.6,204.4 Q100.0,208.0 95.4,210.1 L82.6,215.9 Q78.0,218.0 73.5,220.2 L57.5,227.8 Q53.0,230.0 49.9,233.9 L48.1,236.1 Q45.0,240.0 43.9,244.5 L43.6,245.5 Q42.5,250.0 46.3,253.3 L49.2,255.7 Q53.0,259.0 57.7,260.8 L82.0,269.9 Q86.7,271.7 90.0,275.4 L99.7,286.3 Q103.0,290.0 103.8,294.9 L104.2,296.8 Q105.0,301.7 103.4,306.5 L99.6,318.2 Q98.0,323.0 97.8,328.0 L97.7,330.0 Q97.5,335.0 99.0,339.8 L101.5,348.2 Q103.0,353.0 103.7,357.9 L105.1,367.6 Q105.8,372.5 106.0,377.5 L106.5,388.0"/>
<path d="M216.5,126.0 L213.9,131.5 Q211.7,136.0 209.6,140.5 L185.1,192.2 Q183.0,196.7 178.7,199.3 L157.3,212.4 Q153.0,215.0 148.7,217.5 L137.3,224.2 Q133.0,226.7 128.1,227.5 L117.9,229.2 Q113.0,230.0 111.6,232.3 L111.4,232.7 Q110.0,235.0 111.4,238.6 L111.6,239.4 Q113.0,243.0 116.2,246.8 L119.8,251.2 Q123.0,255.0 127.1,257.8 L135.9,263.7 Q140.0,266.5 144.5,268.8 L162.2,277.7 Q166.7,280.0 169.3,283.6 L169.9,284.4 Q172.5,288.0 173.2,290.7 L173.3,291.3 Q174.0,294.0 175.8,294.9 L176.2,295.1 Q178.0,296.0 179.9,300.6 L180.6,302.1 Q182.5,306.7 182.3,311.7 L181.9,323.0 Q181.7,328.0 180.4,332.8 L176.3,348.2 Q175.0,353.0 174.4,358.0 L173.1,367.5 Q172.5,372.5 172.2,377.5 L171.5,388.0"/>
<path d="M235.5,126.0 L235.8,156.7 Q235.8,161.7 236.3,166.7 L238.5,186.7 Q239.0,191.7 238.4,196.7 L238.1,200.0 Q237.5,205.0 233.8,208.4 L228.7,213.3 Q225.0,216.7 220.1,217.7 L204.9,220.7 Q200.0,221.7 196.2,221.7 L195.5,221.7 Q191.7,221.7 187.6,224.6 L169.1,237.9 Q165.0,240.8 164.3,242.3 L164.2,242.5 Q163.5,244.0 164.2,245.6 L164.3,245.9 Q165.0,247.5 168.5,251.1 L174.5,257.4 Q178.0,261.0 182.5,262.8 L183.5,263.2 Q188.0,265.0 192.8,266.5 L215.2,273.5 Q220.0,275.0 224.5,276.8 L225.5,277.2 Q230.0,279.0 230.0,284.0 L230.8,367.5 Q230.8,372.5 230.8,377.5 L230.8,388.0"/>
<path d="M294.0,126.0 L291.2,161.7 Q290.8,166.7 290.9,171.7 L290.9,176.7 Q291.0,181.7 287.5,185.3 L286.5,186.4 Q283.0,190.0 278.7,192.6 L271.0,197.4 Q266.7,200.0 263.4,203.7 L258.3,209.3 Q255.0,213.0 252.1,217.1 L245.9,225.9 Q243.0,230.0 240.5,234.3 L237.5,239.7 Q235.0,244.0 236.1,247.5 L236.4,248.2 Q237.5,251.7 238.9,256.5 L239.4,258.2 Q240.8,263.0 244.0,266.8 L251.8,276.2 Q255.0,280.0 258.6,283.5 L273.9,298.2 Q277.5,301.7 278.6,306.6 L281.9,321.8 Q283.0,326.7 282.8,331.7 L281.0,367.5 Q280.8,372.5 280.7,377.5 L280.5,388.0"/>
<path d="M335.3,126.0 L333.3,165.0 Q333.0,170.0 331.6,174.8 L328.1,186.9 Q326.7,191.7 325.6,196.6 L322.8,208.1 Q321.7,213.0 319.1,217.3 L309.3,233.7 Q306.7,238.0 307.7,242.0 L308.0,242.7 Q309.0,246.7 310.8,251.4 L314.9,262.0 Q316.7,266.7 319.6,270.8 L332.1,288.9 Q335.0,293.0 333.9,297.9 L329.1,318.1 Q328.0,323.0 328.3,328.0 L330.5,367.5 Q330.8,372.5 330.9,377.5 L331.0,388.0"/>
<path d="M394.0,126.0 L393.2,128.7 Q392.5,131.0 391.3,135.9 L382.9,170.1 Q381.7,175.0 382.2,180.0 L383.5,193.0 Q384.0,198.0 382.9,202.9 L381.1,210.1 Q380.0,215.0 376.9,218.9 L369.8,227.8 Q366.7,231.7 362.0,233.5 L354.7,236.2 Q350.0,238.0 348.9,239.7 L348.6,240.0 Q347.5,241.7 349.0,244.0 L349.3,244.4 Q350.8,246.7 354.2,250.4 L356.6,253.0 Q360.0,256.7 362.2,261.2 L364.5,265.5 Q366.7,270.0 367.8,274.9 L371.9,293.1 Q373.0,298.0 373.6,303.0 L378.4,341.7 Q379.0,346.7 378.0,351.6 L375.0,367.6 Q374.0,372.5 373.0,377.4 L371.0,388.0"/>
</g><g stroke="#a6bcc8" stroke-width="1" stroke-dasharray="5 4.6">
<path d="M68.5,126.0 L62.7,143.9 Q60.3,151.5 55.9,158.2 L51.4,164.8 Q47.0,171.5 42.5,176.0 L37.0,181.5"/>
<path d="M112.0,126.0 L104.6,147.0 Q102.0,154.5 98.7,161.8 L95.3,169.2 Q92.0,176.5 88.8,181.7 L88.2,182.8 Q85.0,188.0 78.8,193.1 L74.9,196.4 Q68.7,201.5 62.5,206.0 L61.2,207.0 Q55.0,211.5 47.7,214.8 L46.0,215.7 Q38.7,219.0 33.8,219.9 L28.0,221.0"/>
<path d="M178.7,141.5 L168.5,155.1 Q163.7,161.5 158.0,167.1 L152.7,172.4 Q147.0,178.0 141.3,183.6 L135.7,188.9 Q130.0,194.5 124.3,200.2 L120.7,203.8 Q115.0,209.5 109.1,214.9 L107.9,216.1 Q102.0,221.5 100.5,227.4 L100.2,228.6 Q98.7,234.5 99.0,242.5 L99.2,245.0 Q99.5,253.0 100.6,259.1 L100.9,260.4 Q102.0,266.5 107.9,271.0 L109.1,272.0 Q115.0,276.5 120.1,282.7 L123.6,286.8 Q128.7,293.0 131.3,300.6 L132.4,303.9 Q135.0,311.5 135.4,319.5 L137.4,361.5 Q137.8,369.5 137.8,377.5 L137.8,388.0"/>
<path d="M223.5,126.0 L223.1,131.7 Q222.8,136.5 221.6,144.4 L219.9,155.1 Q218.7,163.0 217.9,169.1 L217.8,170.4 Q217.0,176.5 214.7,184.0 L214.3,185.5 Q212.0,193.0 206.3,198.7 L202.7,202.3 Q197.0,208.0 190.0,211.8 L179.0,217.7 Q172.0,221.5 164.8,224.9 L162.2,226.1 Q155.0,229.5 150.2,235.9 L146.8,240.6 Q142.0,247.0 146.5,252.2 L147.5,253.3 Q152.0,258.5 159.2,262.1 L164.8,264.9 Q172.0,268.5 179.0,272.5 L181.7,274.0 Q188.7,278.0 193.2,281.9 L194.2,282.6 Q198.7,286.5 202.5,292.4 L203.2,293.6 Q207.0,299.5 207.3,307.5 L207.5,311.5 Q207.8,319.5 207.0,327.5 L203.6,361.5 Q202.8,369.5 202.5,377.5 L202.0,388.0"/>
<path d="M262.0,126.0 L261.2,163.5 Q261.0,171.5 258.6,179.1 L254.4,191.9 Q252.0,199.5 247.6,206.2 L246.4,207.8 Q242.0,214.5 237.5,221.1 L232.5,228.4 Q228.0,235.0 226.5,242.9 L226.0,245.1 Q224.5,253.0 228.5,259.9 L233.0,267.6 Q237.0,274.5 240.7,281.6 L248.3,295.9 Q252.0,303.0 253.3,310.9 L254.7,320.1 Q256.0,328.0 255.7,336.0 L254.8,361.5 Q254.5,369.5 254.5,377.5 L254.5,388.0"/>
<path d="M317.0,126.0 L315.5,150.0 Q315.0,158.0 312.9,165.7 L312.1,168.8 Q310.0,176.5 307.7,184.2 L304.3,195.3 Q302.0,203.0 298.7,210.3 L297.0,214.2 Q293.7,221.5 293.3,229.0 L293.2,230.5 Q292.8,238.0 293.2,246.0 L293.6,252.0 Q294.0,260.0 295.3,267.9 L295.7,270.1 Q297.0,278.0 299.3,285.7 L302.2,295.3 Q304.5,303.0 305.5,310.9 L306.8,320.1 Q307.8,328.0 307.6,336.0 L307.2,361.5 Q307.0,369.5 307.0,377.5 L307.0,388.0"/>
<path d="M364.0,126.0 L362.6,146.5 Q362.0,154.5 360.2,162.3 L358.8,168.7 Q357.0,176.5 353.7,183.8 L348.3,195.7 Q345.0,203.0 342.0,210.4 L338.0,220.6 Q335.0,228.0 332.5,234.1 L332.0,235.4 Q329.5,241.5 332.0,246.7 L332.5,247.8 Q335.0,253.0 339.1,259.8 L340.9,262.7 Q345.0,269.5 347.2,277.2 L349.8,286.8 Q352.0,294.5 352.5,302.5 L353.2,311.5 Q353.7,319.5 353.4,327.5 L352.3,361.5 Q352.0,369.5 352.0,377.5 L352.0,388.0"/>
<path d="M28.0,276.0 L47.5,283.6 Q55.0,286.5 61.9,290.6 L70.1,295.4 Q77.0,299.5 81.5,306.1 L84.2,309.9 Q88.7,316.5 90.4,324.3 L92.0,331.7 Q93.7,339.5 93.9,347.5 L94.3,361.5 Q94.5,369.5 94.5,377.5 L94.5,388.0"/>
<path d="M32.0,311.5 L39.3,322.8 Q43.7,329.5 46.3,336.3 L46.9,337.7 Q49.5,344.5 49.5,352.5 L49.5,388.0"/>
</g></g>
<g id="pondt"><path d="M92.3,229.0 C92.8,223.6 93.6,226.2 98.0,219.5 C102.4,212.8 100.0,216.0 105.5,209.0 C111.0,202.0 107.7,205.2 114.5,198.5 C121.3,191.8 117.8,194.3 126.0,189.0 C134.2,183.7 130.3,185.5 139.0,182.6 C147.7,179.7 143.7,179.8 152.0,180.2 C160.3,180.6 157.2,179.4 164.0,183.8 C170.8,188.2 168.5,186.1 172.5,193.5 C176.5,200.9 175.7,198.2 176.0,206.0 C176.3,213.8 177.5,210.8 173.5,217.0 C169.5,223.2 172.2,220.9 164.0,224.5 C155.8,228.1 160.0,226.3 149.0,227.8 C138.0,229.3 141.2,227.2 131.0,229.0 C120.8,230.8 126.5,230.5 118.5,233.3 C110.5,236.1 114.4,236.5 107.0,237.3 C99.6,238.1 101.3,238.6 96.4,235.8 C91.5,233.0 91.8,234.4 92.3,229.0Z" fill="url(#pdt)" opacity="0.95"/><path d="M186,280 C185,268 192,262 205,260 C218,257.5 230,258 233,268 C236,278 234,287 242,293 C252,300 258,306 256,316 C254,326 244,330.5 233,329.5 C218,328 205,319 197,306 C190,295 187,288 186,280 Z" fill="url(#pdt)" opacity="0.95"/></g>
<g id="paths" fill="none" stroke="#b39e7c" stroke-width="3.8"><path d="M22.1,146.1 C24.4,146.4 16.3,145.1 28.9,146.8 C41.6,148.6 41.3,147.6 60.0,151.4 C78.8,155.1 65.6,153.1 85.2,158.1 C104.8,163.2 96.5,162.0 118.7,166.5 C141.0,170.9 129.6,169.0 152.0,171.5 C174.3,174.0 163.4,173.6 185.9,174.0 C208.4,174.4 200.4,174.4 219.4,172.7 C238.4,171.0 223.8,173.0 242.9,169.0 C261.9,165.0 256.9,166.8 276.5,160.6 C296.1,154.5 286.1,157.6 301.7,150.6 C317.2,143.5 312.6,144.6 323.1,139.5 C333.6,134.4 326.8,138.5 333.2,135.2 C339.6,131.8 339.2,131.3 342.2,129.4"/><path d="M22.1,375.6 C24.4,375.3 7.9,378.0 28.9,374.6 C50.0,371.2 55.3,370.6 85.2,365.3 C115.1,360.0 96.5,364.0 118.7,358.7 C141.0,353.4 129.6,357.3 152.0,349.4 C174.3,341.6 166.8,343.3 185.9,335.1 C205.0,327.0 190.3,334.0 209.3,325.1 C228.3,316.1 223.3,317.6 242.9,308.3 C262.4,299.1 251.3,302.5 268.0,297.4 C284.8,292.2 273.6,294.5 293.2,292.8 C312.8,291.2 304.5,291.7 326.8,292.3 C349.2,293.0 336.1,291.5 360.4,294.9 C384.6,298.2 386.5,299.9 399.6,302.4"/><path d="M138.9,353.5 C146.1,351.9 145.0,350.5 160.7,348.9 C176.4,347.3 166.3,348.5 185.9,348.6 C205.5,348.8 194.8,348.1 219.4,349.4 C244.0,350.8 229.5,349.4 259.7,352.7 C289.9,356.1 276.5,354.2 310.0,359.5 C343.6,364.8 331.8,362.6 360.4,368.8 C388.9,374.9 383.9,374.9 395.6,377.9"/></g>
<clipPath id="cp1"><rect x="30" y="131" width="362.5" height="241.5"/></clipPath>
<clipPath id="rp1"><rect x="30" y="131" width="367.5" height="241.5"/></clipPath>
<clipPath id="cp2"><rect x="408" y="134.7" width="363.3" height="240.0"/></clipPath>
<clipPath id="rp2"><rect x="408" y="134.7" width="368.3" height="240.0"/></clipPath>
<clipPath id="cp3"><rect x="785.8" y="134.7" width="364.2" height="240.0"/></clipPath>
<clipPath id="rp3"><rect x="785.8" y="134.7" width="369.2" height="240.0"/></clipPath>
<clipPath id="cp4"><rect x="38" y="514.7" width="360.5" height="247.8"/></clipPath>
<clipPath id="rp4"><rect x="38" y="514.7" width="367.0" height="247.8"/></clipPath>
<clipPath id="cp5"><rect x="410.8" y="514.7" width="363.2" height="245.3"/></clipPath>
<clipPath id="rp5"><rect x="410.8" y="514.7" width="368.2" height="245.3"/></clipPath>
<clipPath id="cp6"><rect x="788.3" y="514.7" width="363.0" height="245.3"/></clipPath>
<clipPath id="rp6"><rect x="788.3" y="514.7" width="368.0" height="245.3"/></clipPath>
</defs>
<g clip-path="url(#cp1)"><rect x="30" y="131" width="362.5" height="241.5" fill="url(#bg)"/>
<use href="#ct" transform="translate(0,0)"/>
</g>
<g clip-path="url(#rp1)">
<use href="#river" transform="translate(0,0)"/>
<use href="#warrow" transform="translate(0,0)"/>
</g>
<g clip-path="url(#cp1)">
<use href="#ct" transform="translate(0,0)"/>
<use href="#st1" transform="translate(0,0)"/>
<use href="#tr1" transform="translate(0,0)"/>
</g>
<defs><g id="a2" fill="none" stroke="#9cc0d1" stroke-width="4" stroke-linecap="butt"><path d="M80,240.5 C98,236 113,227 124.5,214.5"/><path d="M113,212.8 L125.6,212.8 L125.6,225" stroke-width="3"/><path d="M190,243.5 C203,255 216,269 226,284"/><path d="M214,281.5 L227.3,285.6 L229.8,272.5" stroke-width="3"/></g><g id="a3" fill="none" stroke-linecap="butt"><path d="M96,236 C108,231 119,223 127,214.5" stroke="url(#ar1)" stroke-width="4"/><path d="M115,212.8 L128.2,212.8 L128.2,225" stroke="#fff" stroke-width="3"/><path d="M191.5,242.5 C205,256 219,270 230,285" stroke="url(#ar2)" stroke-width="4"/><path d="M217,281 L231,286 L232.3,272.3" stroke="#fff" stroke-width="3"/></g></defs>
<g clip-path="url(#cp2)"><rect x="408" y="134.7" width="363.3" height="240.0" fill="url(#bg)"/>
<use href="#ds" transform="translate(378,3.5)"/>
<use href="#ct" transform="translate(378,3.5)"/>
</g>
<g clip-path="url(#rp2)">
<use href="#riverd" transform="translate(378,3.5)"/>
<use href="#warrow" transform="translate(378,3.5)"/>
</g>
<g clip-path="url(#cp2)">
<use href="#ct" transform="translate(378,3.5)"/>
<use href="#a2" transform="translate(378,3.5)"/>
<use href="#st2" transform="translate(378,3.5)"/>
<use href="#tr2" transform="translate(378,3.5)"/>
<use href="#col" transform="translate(378,3.5)"/>
</g>
<g clip-path="url(#cp3)"><rect x="785.8" y="134.7" width="364.2" height="240.0" fill="url(#bg)"/>
<use href="#ds" transform="translate(756,3.5)"/>
<use href="#ct" transform="translate(756,3.5)"/>
</g>
<g clip-path="url(#rp3)">
<use href="#river2" transform="translate(756,3.5)"/>
<use href="#warrow2" transform="translate(756,3.5)"/>
</g>
<g clip-path="url(#cp3)">
<use href="#ct" transform="translate(756,3.5)"/>
<use href="#pond" transform="translate(756,3.5)"/>
<use href="#ctp" transform="translate(756,3.5)"/>
<use href="#a3" transform="translate(756,3.5)"/>
<use href="#st2" transform="translate(756,3.5)"/>
<use href="#gr" transform="translate(756,3.5)"/>
<use href="#tr3" transform="translate(756,3.5)"/>
<use href="#col" transform="translate(756,3.5)"/>
</g>
<g clip-path="url(#cp4)"><rect x="38" y="514.7" width="360.5" height="247.8" fill="url(#bg)"/>
<use href="#ds" transform="translate(5.3,379.5)"/>
<use href="#ct" transform="translate(5.3,379.5)"/>
</g>
<g clip-path="url(#rp4)">
<use href="#river2" transform="translate(5.3,379.5)"/>
<use href="#warrow2" transform="translate(5.3,379.5)"/>
</g>
<g clip-path="url(#cp4)">
<use href="#ct" transform="translate(5.3,379.5)"/>
<use href="#pond" transform="translate(5.3,379.5)"/>
<use href="#ctp" transform="translate(5.3,379.5)"/>
<use href="#st2" transform="translate(5.3,379.5)"/>
<use href="#gr" transform="translate(5.3,379.5)"/>
<use href="#tr3" transform="translate(5.3,379.5)"/>
<use href="#tr4" transform="translate(5.3,379.5)"/>
<use href="#col" transform="translate(5.3,379.5)"/>
</g>
<g clip-path="url(#cp5)"><rect x="410.8" y="514.7" width="363.2" height="245.3" fill="url(#bg)"/>
<use href="#ds" transform="translate(382.08,380.45) scale(0.9932)"/>
<use href="#ct" transform="translate(382.08,380.45) scale(0.9932)"/>
</g>
<g clip-path="url(#rp5)">
<use href="#river2" transform="translate(382.08,380.45) scale(0.9932)"/>
<use href="#warrow2" transform="translate(382.08,380.45) scale(0.9932)"/>
</g>
<g clip-path="url(#cp5)">
<use href="#ct" transform="translate(382.08,380.45) scale(0.9932)"/>
<use href="#pond" transform="translate(382.08,380.45) scale(0.9932)"/>
<use href="#ctp" transform="translate(382.08,380.45) scale(0.9932)"/>
<use href="#st2" transform="translate(382.08,380.45) scale(0.9932)"/>
<use href="#gr" transform="translate(382.08,380.45) scale(0.9932)"/>
<use href="#tr3" transform="translate(382.08,380.45) scale(0.9932)"/>
<use href="#tr4" transform="translate(382.08,380.45) scale(0.9932)"/>
<use href="#col" transform="translate(382.08,380.45) scale(0.9932)"/>
</g>
<g clip-path="url(#rp5)"><use href="#paths" transform="translate(382.08,380.45) scale(0.9932)"/></g>
<g clip-path="url(#cp6)"><rect x="788.3" y="514.7" width="363.0" height="245.3" fill="url(#bg)"/>
<use href="#ds" transform="translate(757.88,380.5) scale(0.9932)"/>
<use href="#ct" transform="translate(757.88,380.5) scale(0.9932)"/>
<use href="#rivert" transform="translate(757.88,380.5) scale(0.9932)"/>
</g>
<g clip-path="url(#rp6)"><g transform="translate(757.88,380.5) scale(0.9932)"><path d="M352,244.5 L398,237.5 L398,266 L352,258Z" fill="url(#wedge)"/><path d="M396,249.6 C370,248.8 340,247.4 300,246.5 C270,245.6 245,242.6 209,239.6 L209,245.8 C245,248.6 270,249.6 300,249.7 C340,250.6 370,252.4 396,254.2Z" fill="url(#bl)"/><path d="M214,234.6 L204.6,242.6 L214,251" fill="none" stroke="#fff" stroke-width="3.4"/></g></g>
<g clip-path="url(#cp6)">
<use href="#pondt" transform="translate(757.88,380.5) scale(0.9932)"/>
<use href="#ct" transform="translate(757.88,380.5) scale(0.9932)"/>
<use href="#ds" transform="translate(757.88,380.5) scale(0.9932)"/>
<use href="#st2" transform="translate(757.88,380.5) scale(0.9932)"/>
<use href="#gr" transform="translate(757.88,380.5) scale(0.9932)"/>
<use href="#tr3" transform="translate(757.88,380.5) scale(0.9932)"/>
<use href="#tr4" transform="translate(757.88,380.5) scale(0.9932)"/>
<use href="#col" transform="translate(757.88,380.5) scale(0.9932)"/>
</g>
<g clip-path="url(#rp6)"><use href="#paths" transform="translate(757.88,380.5) scale(0.9932)"/></g>
<rect x="405.5" y="469.7" width="758.5" height="403.1" fill="none" stroke="#2fb496" stroke-width="2.5" stroke-linecap="round" stroke-dasharray="0 6.958"/>
<g opacity="0.996">
<text x="37" y="68.5" font-size="26.5" fill="#111" textLength="303.5" lengthAdjust="spacingAndGlyphs">ECOLOGICAL CORRIDORS</text>
<text x="153.2" y="103.3" font-size="16" fill="#505050" textLength="129.8" lengthAdjust="spacingAndGlyphs" stroke="#fff" stroke-width="0.45">Existing Wadi Bed</text>
<text x="524.2" y="103.3" font-size="16" fill="#505050" textLength="145.3" lengthAdjust="spacingAndGlyphs" stroke="#fff" stroke-width="0.45">First Planting Phase</text>
<text x="915" y="103.3" font-size="16" fill="#505050" textLength="120.2" lengthAdjust="spacingAndGlyphs" stroke="#fff" stroke-width="0.45">Retention Ponds</text>
<text x="409" y="390.8" font-size="16" fill="#505050" textLength="200.5" lengthAdjust="spacingAndGlyphs" stroke="#fff" stroke-width="0.45">Building Stone constructins</text>
<text x="410" y="411.2" font-size="16" fill="#505050" textLength="281.7" lengthAdjust="spacingAndGlyphs" stroke="#fff" stroke-width="0.45">Adding plantings of shrubs in wadi bed</text>
<text x="409" y="431.7" font-size="16" fill="#505050" textLength="339.5" lengthAdjust="spacingAndGlyphs" stroke="#fff" stroke-width="0.45">Introducing and increasing 20% local plantings</text>
<text x="789.3" y="390.8" font-size="16" fill="#505050" textLength="172.4" lengthAdjust="spacingAndGlyphs" stroke="#fff" stroke-width="0.45">Adding detention ponds</text>
<text x="788.3" y="411.2" font-size="16" fill="#505050" textLength="339.2" lengthAdjust="spacingAndGlyphs" stroke="#fff" stroke-width="0.45">Introducing and increasing 50% local plantings</text>
<text x="788.3" y="431.7" font-size="16" fill="#505050" textLength="352" lengthAdjust="spacingAndGlyphs" stroke="#fff" stroke-width="0.45">Planting grasses for nutrition and mositrue base</text>
<text x="141.5" y="491.2" font-size="16" fill="#505050" textLength="147.5" lengthAdjust="spacingAndGlyphs" stroke="#fff" stroke-width="0.45">Final Planting Phase</text>
<text x="709.5" y="491.3" font-size="16" fill="#505050" textLength="147" lengthAdjust="spacingAndGlyphs" stroke="#fff" stroke-width="0.45">Let the Nature Grow</text>
<text x="29" y="826.8" font-size="16" fill="#505050" textLength="348.5" lengthAdjust="spacingAndGlyphs" stroke="#fff" stroke-width="0.45">Introducing and increasing 100% local plantings</text>
<text x="618.3" y="795.8" font-size="16" fill="#505050" textLength="134.5" lengthAdjust="spacingAndGlyphs" stroke="#fff" stroke-width="0.45">Heavy Rain Events</text>
<text x="410.6" y="827.3" font-size="16" fill="#505050" textLength="383" lengthAdjust="spacingAndGlyphs" stroke="#fff" stroke-width="0.45">Creating paths and open spaces along the wadies to</text>
<text x="410.6" y="846.8" font-size="16" fill="#505050" textLength="225.6" lengthAdjust="spacingAndGlyphs" stroke="#fff" stroke-width="0.45">reconecct people with the wadi</text>
<text x="1019.3" y="791.7" font-size="16" fill="#505050" textLength="106.8" lengthAdjust="spacingAndGlyphs" stroke="#fff" stroke-width="0.45">Normal Events</text>
</g>
</svg></body></html>
